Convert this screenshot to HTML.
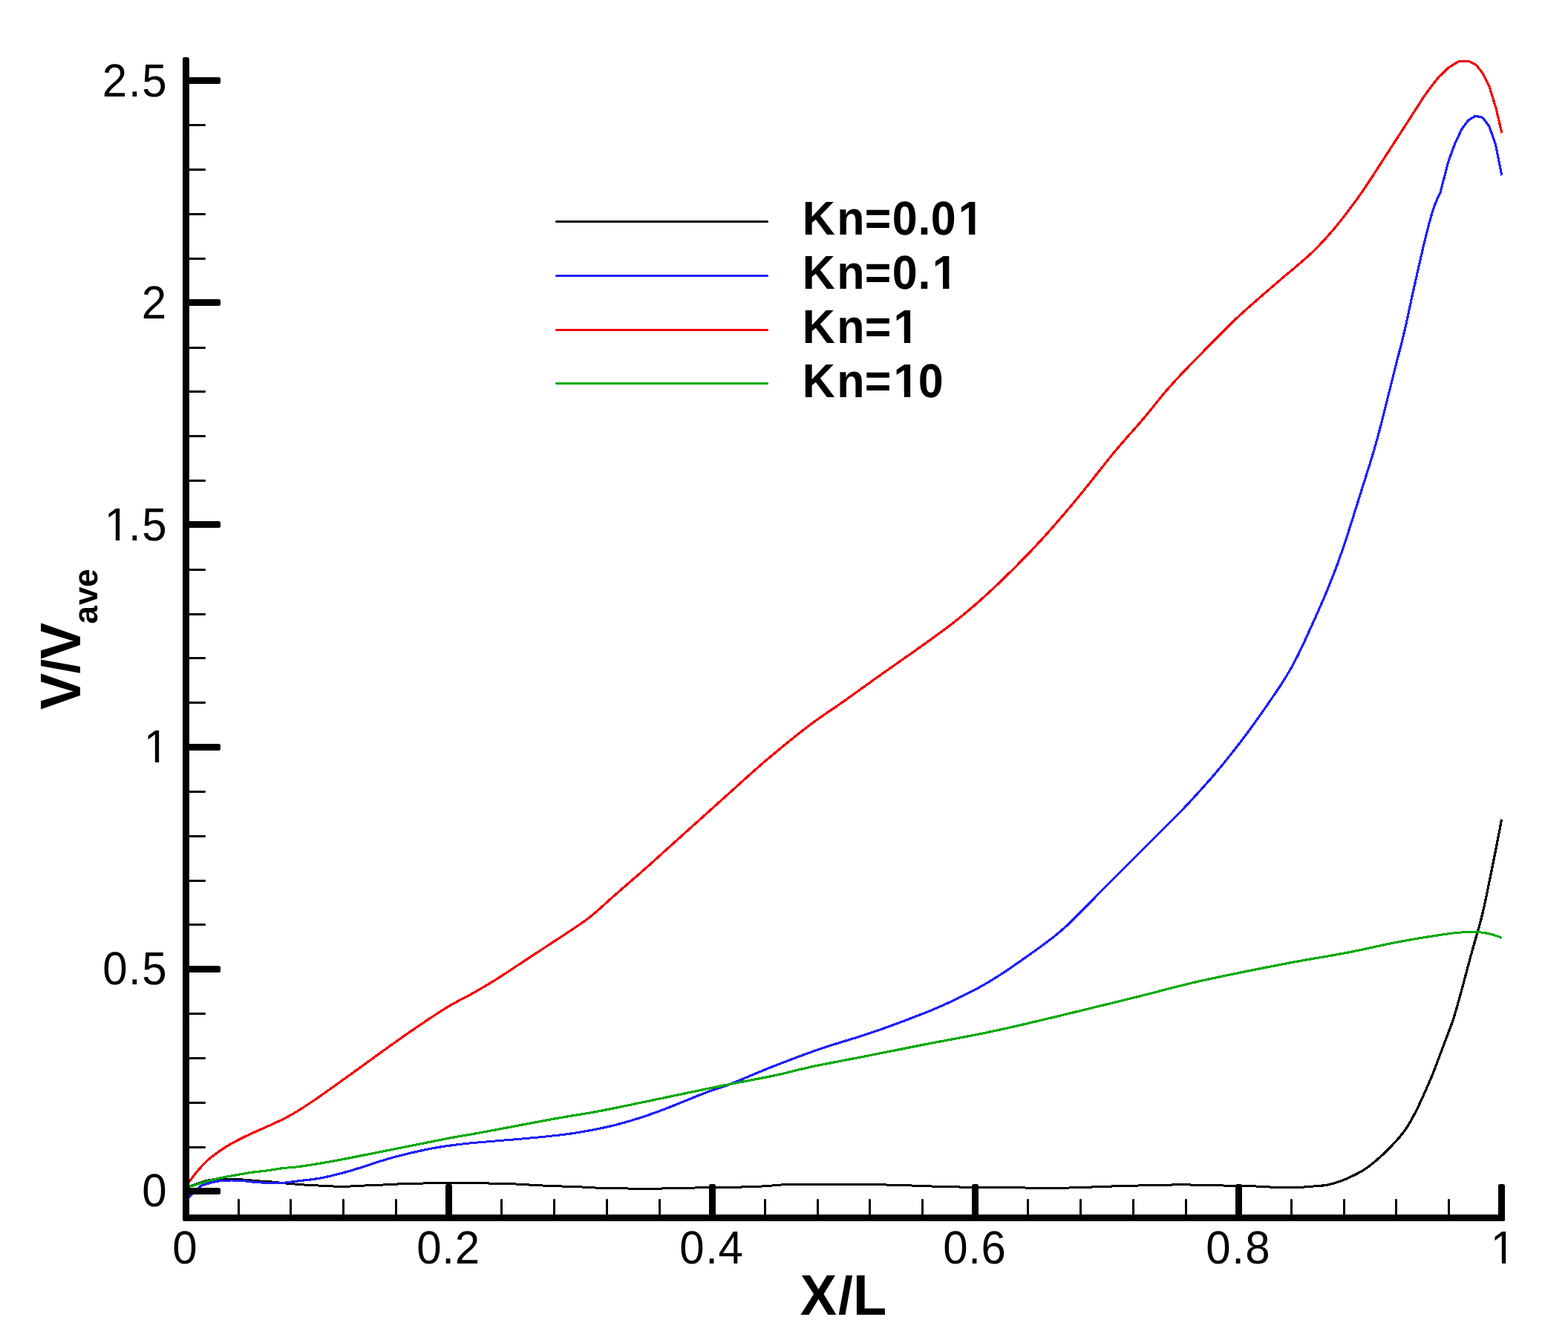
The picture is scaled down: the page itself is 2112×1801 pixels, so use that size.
<!DOCTYPE html>
<html lang="en"><head><meta charset="utf-8"><title>V/Vave vs X/L</title>
<style>html,body{margin:0;padding:0;background:#fff;}body{width:2112px;height:1801px;overflow:hidden;}svg{display:block;}text{font-family:"Liberation Sans",sans-serif;fill:#000;white-space:pre;text-rendering:geometricPrecision;}.tk{font-size:60px;font-weight:normal;}.lg{font-size:61px;font-weight:bold;}.tt{font-size:74px;font-weight:bold;}.sb{font-size:44px;font-weight:bold;}</style></head><body>
<svg width="2112" height="1801" viewBox="0 0 2112 1801">
<rect x="0" y="0" width="2112" height="1801" fill="#ffffff"/>
<defs><clipPath id="plot"><rect x="250.5" y="0" width="1774" height="1645"/></clipPath></defs>
<g clip-path="url(#plot)" fill="none" stroke-width="3" stroke-linejoin="round" stroke-linecap="butt" shape-rendering="crispEdges">
<path d="M250.5 1600.5 L251.5 1599.99 L252.5 1599.5 L253.5 1599.03 L254.5 1598.6 L255.5 1598.2 L256.5 1597.82 L257.5 1597.44 L258.5 1597.07 L259.5 1596.71 L260.5 1596.35 L261.5 1596 L262.5 1595.65 L263.5 1595.31 L264.5 1594.97 L265.5 1594.63 L266.5 1594.3 L267.5 1593.97 L268.5 1593.63 L269.5 1593.3 L270.5 1592.97 L271.5 1592.65 L272.5 1592.32 L273.5 1592.01 L274.5 1591.7 L275.5 1591.4 L276.5 1591.11 L277.5 1590.83 L278.5 1590.56 L279.5 1590.31 L280.5 1590.08 L281.5 1589.86 L282.5 1589.66 L283.5 1589.48 L284.5 1589.33 L285.5 1589.19 L286.5 1589.07 L287.5 1588.97 L288.5 1588.88 L289.5 1588.81" stroke="#000000" stroke-width="3.2"/><path d="M289.5 1588.81 L290.5 1588.74 L291.5 1588.69 L292.5 1588.65 L293.5 1588.61 L294.5 1588.59 L295.5 1588.56 L296.5 1588.53 L297.5 1588.51 L298.5 1588.49 L299.5 1588.46 L300.5 1588.44 L301.5 1588.43 L302.5 1588.41 L303.5 1588.4 L304.5 1588.39 L305.5 1588.39 L306.5 1588.38 L307.5 1588.37 L308.5 1588.36 L309.5 1588.36 L310.5 1588.35 L311.5 1588.35 L312.5 1588.35 L313.5 1588.36 L314.5 1588.37 L315.5 1588.39 L316.5 1588.41 L317.5 1588.44 L318.5 1588.48 L319.5 1588.52 L320.5 1588.57 L321.5 1588.62 L322.5 1588.68 L323.5 1588.74 L324.5 1588.81 L325.5 1588.88 L326.5 1588.96 L327.5 1589.04 L328.5 1589.12 L329.5 1589.2 L330.5 1589.28 L331.5 1589.36 L332.5 1589.45 L333.5 1589.53 L334.5 1589.61 L335.5 1589.7 L336.5 1589.78 L337.5 1589.87 L338.5 1589.96 L339.5 1590.04 L340.5 1590.13 L341.5 1590.22 L342.5 1590.32 L343.5 1590.41 L344.5 1590.5 L345.5 1590.59 L346.5 1590.69 L347.5 1590.78 L348.5 1590.87 L349.5 1590.96 L350.5 1591.04 L351.5 1591.12 L352.5 1591.19 L353.5 1591.24 L354.5 1591.3 L355.5 1591.35 L356.5 1591.39 L357.5 1591.44 L358.5 1591.49 L359.5 1591.53 L360.5 1591.58 L361.5 1591.64 L362.5 1591.7 L363.5 1591.78 L364.5 1591.86 L365.5 1591.95 L366.5 1592.05 L367.5 1592.16 L368.5 1592.26 L369.5 1592.37 L370.5 1592.47 L371.5 1592.58 L372.5 1592.68 L373.5 1592.79 L374.5 1592.89 L375.5 1593 L376.5 1593.11 L377.5 1593.21 L378.5 1593.32 L379.5 1593.42 L380.5 1593.53 L381.5 1593.63 L382.5 1593.74 L383.5 1593.84 L384.5 1593.95 L385.5 1594.05 L386.5 1594.15 L387.5 1594.25 L388.5 1594.34 L389.5 1594.42 L390.5 1594.51 L391.5 1594.59 L392.5 1594.67 L393.5 1594.75 L394.5 1594.83 L395.5 1594.9 L396.5 1594.98 L397.5 1595.06 L398.5 1595.15 L399.5 1595.23 L400.5 1595.31 L401.5 1595.39 L402.5 1595.47 L403.5 1595.55 L404.5 1595.63 L405.5 1595.71 L406.5 1595.78 L407.5 1595.85 L408.5 1595.91 L409.5 1595.97 L410.5 1596.03 L411.5 1596.08 L412.5 1596.14 L413.5 1596.19 L414.5 1596.25 L415.5 1596.3 L416.5 1596.35 L417.5 1596.4 L418.5 1596.46 L419.5 1596.51 L420.5 1596.56 L421.5 1596.61 L422.5 1596.66 L423.5 1596.71 L424.5 1596.77 L425.5 1596.82 L426.5 1596.87 L427.5 1596.92 L428.5 1596.97 L429.5 1597.02 L430.5 1597.07 L431.5 1597.12 L432.5 1597.17 L433.5 1597.22 L434.5 1597.27 L435.5 1597.33 L436.5 1597.38 L437.5 1597.43 L438.5 1597.48 L439.5 1597.53 L440.5 1597.58 L441.5 1597.64 L442.5 1597.69 L443.5 1597.74 L444.5 1597.79 L445.5 1597.84 L446.5 1597.89 L447.5 1597.94 L448.5 1597.99 L449.5 1598.04 L450.5 1598.09 L451.5 1598.14 L452.5 1598.18 L453.5 1598.23 L454.5 1598.28 L455.5 1598.32 L456.5 1598.36 L457.5 1598.38 L458.5 1598.4 L459.5 1598.4 L460.5 1598.4 L461.5 1598.39 L462.5 1598.38 L463.5 1598.36 L464.5 1598.33 L465.5 1598.3 L466.5 1598.26 L467.5 1598.22 L468.5 1598.18 L469.5 1598.13 L470.5 1598.08 L471.5 1598.03 L472.5 1597.98 L473.5 1597.93 L474.5 1597.87 L475.5 1597.82 L476.5 1597.78 L477.5 1597.72 L478.5 1597.67 L479.5 1597.62 L480.5 1597.56 L481.5 1597.5 L482.5 1597.45 L483.5 1597.39 L484.5 1597.33 L485.5 1597.28 L486.5 1597.22 L487.5 1597.17 L488.5 1597.12 L489.5 1597.07 L490.5 1597.02 L491.5 1596.98 L492.5 1596.94 L493.5 1596.89 L494.5 1596.85 L495.5 1596.81 L496.5 1596.77 L497.5 1596.73 L498.5 1596.69 L499.5 1596.65 L500.5 1596.62 L501.5 1596.58 L502.5 1596.54 L503.5 1596.5 L504.5 1596.46 L505.5 1596.43 L506.5 1596.39 L507.5 1596.35 L508.5 1596.31 L509.5 1596.27 L510.5 1596.23 L511.5 1596.19 L512.5 1596.15 L513.5 1596.11 L514.5 1596.07 L515.5 1596.02 L516.5 1595.98 L517.5 1595.93 L518.5 1595.88 L519.5 1595.83 L520.5 1595.78 L521.5 1595.73 L522.5 1595.68 L523.5 1595.62 L524.5 1595.57 L525.5 1595.51 L526.5 1595.46 L527.5 1595.4 L528.5 1595.35 L529.5 1595.3 L530.5 1595.25 L531.5 1595.19 L532.5 1595.14 L533.5 1595.1 L534.5 1595.05 L535.5 1595.01 L536.5 1594.97 L537.5 1594.93 L538.5 1594.89 L539.5 1594.85 L540.5 1594.81 L541.5 1594.78 L542.5 1594.74 L543.5 1594.71 L544.5 1594.67 L545.5 1594.64 L546.5 1594.61 L547.5 1594.58 L548.5 1594.55 L549.5 1594.52 L550.5 1594.49 L551.5 1594.46 L552.5 1594.43 L553.5 1594.4 L554.5 1594.38 L555.5 1594.35 L556.5 1594.32 L557.5 1594.3 L558.5 1594.27 L559.5 1594.25 L560.5 1594.23 L561.5 1594.2 L562.5 1594.18 L563.5 1594.16 L564.5 1594.13 L565.5 1594.11 L566.5 1594.09 L567.5 1594.07 L568.5 1594.04 L569.5 1594.02 L570.5 1594 L571.5 1593.98 L572.5 1593.96 L573.5 1593.93 L574.5 1593.91 L575.5 1593.89 L576.5 1593.87 L577.5 1593.85 L578.5 1593.83 L579.5 1593.81 L580.5 1593.79 L581.5 1593.77 L582.5 1593.75 L583.5 1593.73 L584.5 1593.71 L585.5 1593.69 L586.5 1593.67 L587.5 1593.66 L588.5 1593.64 L589.5 1593.62 L590.5 1593.61 L591.5 1593.59 L592.5 1593.57 L593.5 1593.56 L594.5 1593.55 L595.5 1593.53 L596.5 1593.52 L597.5 1593.51 L598.5 1593.49 L599.5 1593.48 L600.5 1593.47 L601.5 1593.46 L602.5 1593.45 L603.5 1593.44 L604.5 1593.44 L605.5 1593.43 L606.5 1593.42 L607.5 1593.42 L608.5 1593.41 L609.5 1593.41 L610.5 1593.4 L611.5 1593.4 L612.5 1593.4 L613.5 1593.4 L614.5 1593.4 L615.5 1593.4 L616.5 1593.4 L617.5 1593.41 L618.5 1593.41 L619.5 1593.41 L620.5 1593.42 L621.5 1593.43 L622.5 1593.43 L623.5 1593.44 L624.5 1593.45 L625.5 1593.46 L626.5 1593.47 L627.5 1593.48 L628.5 1593.49 L629.5 1593.5 L630.5 1593.51 L631.5 1593.53 L632.5 1593.54 L633.5 1593.55 L634.5 1593.57 L635.5 1593.58 L636.5 1593.6 L637.5 1593.61 L638.5 1593.63 L639.5 1593.65 L640.5 1593.66 L641.5 1593.68 L642.5 1593.7 L643.5 1593.72 L644.5 1593.74 L645.5 1593.75 L646.5 1593.77 L647.5 1593.79 L648.5 1593.81 L649.5 1593.83 L650.5 1593.85 L651.5 1593.87 L652.5 1593.89 L653.5 1593.91 L654.5 1593.93 L655.5 1593.95 L656.5 1593.97 L657.5 1593.99 L658.5 1594.01 L659.5 1594.03 L660.5 1594.05 L661.5 1594.07 L662.5 1594.09 L663.5 1594.1 L664.5 1594.12 L665.5 1594.14 L666.5 1594.16 L667.5 1594.18 L668.5 1594.19 L669.5 1594.21 L670.5 1594.23 L671.5 1594.25 L672.5 1594.27 L673.5 1594.29 L674.5 1594.31 L675.5 1594.33 L676.5 1594.35 L677.5 1594.38 L678.5 1594.4 L679.5 1594.42 L680.5 1594.45 L681.5 1594.48 L682.5 1594.51 L683.5 1594.54 L684.5 1594.57 L685.5 1594.6 L686.5 1594.63 L687.5 1594.67 L688.5 1594.71 L689.5 1594.75 L690.5 1594.79 L691.5 1594.83 L692.5 1594.88 L693.5 1594.92 L694.5 1594.97 L695.5 1595.03 L696.5 1595.08 L697.5 1595.13 L698.5 1595.19 L699.5 1595.25 L700.5 1595.3 L701.5 1595.36 L702.5 1595.42 L703.5 1595.48 L704.5 1595.54 L705.5 1595.6 L706.5 1595.66 L707.5 1595.72 L708.5 1595.78 L709.5 1595.83 L710.5 1595.89 L711.5 1595.95 L712.5 1596.01 L713.5 1596.06 L714.5 1596.12 L715.5 1596.18 L716.5 1596.23 L717.5 1596.29 L718.5 1596.35 L719.5 1596.41 L720.5 1596.47 L721.5 1596.53 L722.5 1596.58 L723.5 1596.64 L724.5 1596.69 L725.5 1596.75 L726.5 1596.8 L727.5 1596.85 L728.5 1596.9 L729.5 1596.95 L730.5 1596.99 L731.5 1597.03 L732.5 1597.08 L733.5 1597.12 L734.5 1597.16 L735.5 1597.2 L736.5 1597.24 L737.5 1597.28 L738.5 1597.32 L739.5 1597.36 L740.5 1597.4 L741.5 1597.43 L742.5 1597.47 L743.5 1597.51 L744.5 1597.55 L745.5 1597.58 L746.5 1597.62 L747.5 1597.66 L748.5 1597.69 L749.5 1597.73 L750.5 1597.77 L751.5 1597.8 L752.5 1597.84 L753.5 1597.88 L754.5 1597.91 L755.5 1597.95 L756.5 1597.99 L757.5 1598.03 L758.5 1598.06 L759.5 1598.1 L760.5 1598.14 L761.5 1598.18 L762.5 1598.21 L763.5 1598.25 L764.5 1598.29 L765.5 1598.32 L766.5 1598.36 L767.5 1598.4 L768.5 1598.43 L769.5 1598.47 L770.5 1598.51 L771.5 1598.54 L772.5 1598.58 L773.5 1598.62 L774.5 1598.65 L775.5 1598.69 L776.5 1598.73 L777.5 1598.76 L778.5 1598.8 L779.5 1598.84 L780.5 1598.88 L781.5 1598.91 L782.5 1598.95 L783.5 1598.99 L784.5 1599.03 L785.5 1599.07 L786.5 1599.12 L787.5 1599.18 L788.5 1599.23 L789.5 1599.29 L790.5 1599.36 L791.5 1599.42 L792.5 1599.49 L793.5 1599.55 L794.5 1599.61 L795.5 1599.68 L796.5 1599.74 L797.5 1599.79 L798.5 1599.85 L799.5 1599.9 L800.5 1599.94 L801.5 1599.98 L802.5 1600.02 L803.5 1600.05 L804.5 1600.08 L805.5 1600.11 L806.5 1600.14 L807.5 1600.17 L808.5 1600.2 L809.5 1600.23 L810.5 1600.25 L811.5 1600.28 L812.5 1600.31 L813.5 1600.33 L814.5 1600.36 L815.5 1600.38 L816.5 1600.41 L817.5 1600.43 L818.5 1600.46 L819.5 1600.48 L820.5 1600.5 L821.5 1600.53 L822.5 1600.55 L823.5 1600.57 L824.5 1600.59 L825.5 1600.61 L826.5 1600.63 L827.5 1600.65 L828.5 1600.67 L829.5 1600.69 L830.5 1600.71 L831.5 1600.73 L832.5 1600.75 L833.5 1600.77 L834.5 1600.79 L835.5 1600.81 L836.5 1600.83 L837.5 1600.85 L838.5 1600.87 L839.5 1600.89 L840.5 1600.9 L841.5 1600.92 L842.5 1600.94 L843.5 1600.96 L844.5 1600.98 L845.5 1601 L846.5 1601.02 L847.5 1601.04 L848.5 1601.06 L849.5 1601.08 L850.5 1601.1 L851.5 1601.12 L852.5 1601.14 L853.5 1601.16 L854.5 1601.18 L855.5 1601.2 L856.5 1601.22 L857.5 1601.24 L858.5 1601.25 L859.5 1601.27 L860.5 1601.28 L861.5 1601.3 L862.5 1601.31 L863.5 1601.32 L864.5 1601.33 L865.5 1601.34 L866.5 1601.34 L867.5 1601.35 L868.5 1601.35 L869.5 1601.35 L870.5 1601.35 L871.5 1601.34 L872.5 1601.34 L873.5 1601.33 L874.5 1601.32 L875.5 1601.31 L876.5 1601.3 L877.5 1601.28 L878.5 1601.27 L879.5 1601.25 L880.5 1601.23 L881.5 1601.22 L882.5 1601.2 L883.5 1601.18 L884.5 1601.16 L885.5 1601.14 L886.5 1601.12 L887.5 1601.1 L888.5 1601.07 L889.5 1601.05 L890.5 1601.03 L891.5 1601.01 L892.5 1600.99 L893.5 1600.97 L894.5 1600.95 L895.5 1600.92 L896.5 1600.9 L897.5 1600.88 L898.5 1600.86 L899.5 1600.84 L900.5 1600.81 L901.5 1600.79 L902.5 1600.77 L903.5 1600.74 L904.5 1600.72 L905.5 1600.7 L906.5 1600.68 L907.5 1600.65 L908.5 1600.63 L909.5 1600.61 L910.5 1600.58 L911.5 1600.56 L912.5 1600.54 L913.5 1600.51 L914.5 1600.49 L915.5 1600.47 L916.5 1600.44 L917.5 1600.42 L918.5 1600.4 L919.5 1600.37 L920.5 1600.35 L921.5 1600.33 L922.5 1600.3 L923.5 1600.28 L924.5 1600.26 L925.5 1600.24 L926.5 1600.21 L927.5 1600.19 L928.5 1600.17 L929.5 1600.15 L930.5 1600.12 L931.5 1600.1 L932.5 1600.08 L933.5 1600.06 L934.5 1600.04 L935.5 1600.02 L936.5 1600 L937.5 1599.98 L938.5 1599.96 L939.5 1599.94 L940.5 1599.92 L941.5 1599.9 L942.5 1599.88 L943.5 1599.86 L944.5 1599.84 L945.5 1599.82 L946.5 1599.81 L947.5 1599.79 L948.5 1599.77 L949.5 1599.76 L950.5 1599.74 L951.5 1599.72 L952.5 1599.71 L953.5 1599.69 L954.5 1599.68 L955.5 1599.66 L956.5 1599.65 L957.5 1599.63 L958.5 1599.62 L959.5 1599.6 L960.5 1599.59 L961.5 1599.57 L962.5 1599.56 L963.5 1599.55 L964.5 1599.53 L965.5 1599.52 L966.5 1599.5 L967.5 1599.49 L968.5 1599.48 L969.5 1599.46 L970.5 1599.45 L971.5 1599.43 L972.5 1599.42 L973.5 1599.41 L974.5 1599.39 L975.5 1599.38 L976.5 1599.36 L977.5 1599.35 L978.5 1599.34 L979.5 1599.32 L980.5 1599.31 L981.5 1599.29 L982.5 1599.28 L983.5 1599.26 L984.5 1599.25 L985.5 1599.23 L986.5 1599.22 L987.5 1599.2 L988.5 1599.19 L989.5 1599.17 L990.5 1599.15 L991.5 1599.14 L992.5 1599.12 L993.5 1599.1 L994.5 1599.08 L995.5 1599.07 L996.5 1599.05 L997.5 1599.03 L998.5 1599.01 L999.5 1598.99 L1000.5 1598.97 L1001.5 1598.95 L1002.5 1598.93 L1003.5 1598.9 L1004.5 1598.88 L1005.5 1598.85 L1006.5 1598.83 L1007.5 1598.8 L1008.5 1598.77 L1009.5 1598.74 L1010.5 1598.71 L1011.5 1598.68 L1012.5 1598.64 L1013.5 1598.61 L1014.5 1598.57 L1015.5 1598.53 L1016.5 1598.49 L1017.5 1598.44 L1018.5 1598.4 L1019.5 1598.35 L1020.5 1598.3 L1021.5 1598.25 L1022.5 1598.2 L1023.5 1598.15 L1024.5 1598.09 L1025.5 1598.03 L1026.5 1597.97 L1027.5 1597.91 L1028.5 1597.84 L1029.5 1597.77 L1030.5 1597.7 L1031.5 1597.63 L1032.5 1597.56 L1033.5 1597.49 L1034.5 1597.41 L1035.5 1597.34 L1036.5 1597.26 L1037.5 1597.19 L1038.5 1597.11 L1039.5 1597.04 L1040.5 1596.96 L1041.5 1596.88 L1042.5 1596.8 L1043.5 1596.71 L1044.5 1596.63 L1045.5 1596.54 L1046.5 1596.45 L1047.5 1596.36 L1048.5 1596.28 L1049.5 1596.2 L1050.5 1596.13 L1051.5 1596.06 L1052.5 1596 L1053.5 1595.95 L1054.5 1595.89 L1055.5 1595.84 L1056.5 1595.79 L1057.5 1595.75 L1058.5 1595.7 L1059.5 1595.66 L1060.5 1595.62 L1061.5 1595.58 L1062.5 1595.55 L1063.5 1595.51 L1064.5 1595.48 L1065.5 1595.45 L1066.5 1595.42 L1067.5 1595.4 L1068.5 1595.37 L1069.5 1595.35 L1070.5 1595.33 L1071.5 1595.31 L1072.5 1595.29 L1073.5 1595.27 L1074.5 1595.26 L1075.5 1595.24 L1076.5 1595.23 L1077.5 1595.22 L1078.5 1595.21 L1079.5 1595.2 L1080.5 1595.19 L1081.5 1595.18 L1082.5 1595.18 L1083.5 1595.17 L1084.5 1595.17 L1085.5 1595.17 L1086.5 1595.16 L1087.5 1595.16 L1088.5 1595.16 L1089.5 1595.17 L1090.5 1595.17 L1091.5 1595.17 L1092.5 1595.17 L1093.5 1595.18 L1094.5 1595.18 L1095.5 1595.19 L1096.5 1595.19 L1097.5 1595.2 L1098.5 1595.21 L1099.5 1595.21 L1100.5 1595.22 L1101.5 1595.23 L1102.5 1595.24 L1103.5 1595.25 L1104.5 1595.25 L1105.5 1595.26 L1106.5 1595.27 L1107.5 1595.28 L1108.5 1595.29 L1109.5 1595.3 L1110.5 1595.31 L1111.5 1595.32 L1112.5 1595.33 L1113.5 1595.33 L1114.5 1595.34 L1115.5 1595.35 L1116.5 1595.36 L1117.5 1595.37 L1118.5 1595.37 L1119.5 1595.38 L1120.5 1595.39 L1121.5 1595.39 L1122.5 1595.4 L1123.5 1595.4 L1124.5 1595.41 L1125.5 1595.41 L1126.5 1595.42 L1127.5 1595.42 L1128.5 1595.42 L1129.5 1595.43 L1130.5 1595.43 L1131.5 1595.43 L1132.5 1595.44 L1133.5 1595.44 L1134.5 1595.45 L1135.5 1595.45 L1136.5 1595.45 L1137.5 1595.46 L1138.5 1595.46 L1139.5 1595.46 L1140.5 1595.47 L1141.5 1595.47 L1142.5 1595.47 L1143.5 1595.48 L1144.5 1595.48 L1145.5 1595.48 L1146.5 1595.49 L1147.5 1595.49 L1148.5 1595.5 L1149.5 1595.5 L1150.5 1595.5 L1151.5 1595.51 L1152.5 1595.51 L1153.5 1595.52 L1154.5 1595.52 L1155.5 1595.53 L1156.5 1595.53 L1157.5 1595.54 L1158.5 1595.55 L1159.5 1595.55 L1160.5 1595.56 L1161.5 1595.56 L1162.5 1595.57 L1163.5 1595.58 L1164.5 1595.59 L1165.5 1595.59 L1166.5 1595.6 L1167.5 1595.61 L1168.5 1595.62 L1169.5 1595.63 L1170.5 1595.64 L1171.5 1595.65 L1172.5 1595.66 L1173.5 1595.67 L1174.5 1595.68 L1175.5 1595.7 L1176.5 1595.71 L1177.5 1595.72 L1178.5 1595.73 L1179.5 1595.75 L1180.5 1595.76 L1181.5 1595.78 L1182.5 1595.79 L1183.5 1595.81 L1184.5 1595.82 L1185.5 1595.84 L1186.5 1595.86 L1187.5 1595.88 L1188.5 1595.9 L1189.5 1595.92 L1190.5 1595.94 L1191.5 1595.96 L1192.5 1595.98 L1193.5 1596 L1194.5 1596.02 L1195.5 1596.05 L1196.5 1596.07 L1197.5 1596.09 L1198.5 1596.12 L1199.5 1596.14 L1200.5 1596.17 L1201.5 1596.19 L1202.5 1596.22 L1203.5 1596.25 L1204.5 1596.27 L1205.5 1596.3 L1206.5 1596.33 L1207.5 1596.36 L1208.5 1596.38 L1209.5 1596.41 L1210.5 1596.44 L1211.5 1596.47 L1212.5 1596.5 L1213.5 1596.53 L1214.5 1596.56 L1215.5 1596.59 L1216.5 1596.62 L1217.5 1596.65 L1218.5 1596.69 L1219.5 1596.72 L1220.5 1596.75 L1221.5 1596.78 L1222.5 1596.81 L1223.5 1596.85 L1224.5 1596.88 L1225.5 1596.91 L1226.5 1596.95 L1227.5 1596.98 L1228.5 1597.02 L1229.5 1597.05 L1230.5 1597.09 L1231.5 1597.12 L1232.5 1597.16 L1233.5 1597.2 L1234.5 1597.23 L1235.5 1597.27 L1236.5 1597.31 L1237.5 1597.35 L1238.5 1597.39 L1239.5 1597.43 L1240.5 1597.46 L1241.5 1597.5 L1242.5 1597.54 L1243.5 1597.58 L1244.5 1597.62 L1245.5 1597.66 L1246.5 1597.69 L1247.5 1597.73 L1248.5 1597.77 L1249.5 1597.81 L1250.5 1597.84 L1251.5 1597.88 L1252.5 1597.91 L1253.5 1597.95 L1254.5 1597.98 L1255.5 1598.02 L1256.5 1598.05 L1257.5 1598.08 L1258.5 1598.12 L1259.5 1598.15 L1260.5 1598.18 L1261.5 1598.21 L1262.5 1598.25 L1263.5 1598.28 L1264.5 1598.31 L1265.5 1598.34 L1266.5 1598.37 L1267.5 1598.4 L1268.5 1598.43 L1269.5 1598.46 L1270.5 1598.49 L1271.5 1598.52 L1272.5 1598.55 L1273.5 1598.58 L1274.5 1598.6 L1275.5 1598.63 L1276.5 1598.66 L1277.5 1598.68 L1278.5 1598.71 L1279.5 1598.74 L1280.5 1598.76 L1281.5 1598.78 L1282.5 1598.81 L1283.5 1598.83 L1284.5 1598.85 L1285.5 1598.87 L1286.5 1598.9 L1287.5 1598.92 L1288.5 1598.94 L1289.5 1598.96 L1290.5 1598.97 L1291.5 1598.99 L1292.5 1599.01 L1293.5 1599.03 L1294.5 1599.04 L1295.5 1599.06 L1296.5 1599.07 L1297.5 1599.09 L1298.5 1599.1 L1299.5 1599.12 L1300.5 1599.13 L1301.5 1599.15 L1302.5 1599.16 L1303.5 1599.18 L1304.5 1599.19 L1305.5 1599.21 L1306.5 1599.22 L1307.5 1599.23 L1308.5 1599.24 L1309.5 1599.26 L1310.5 1599.27 L1311.5 1599.28 L1312.5 1599.29 L1313.5 1599.31 L1314.5 1599.32 L1315.5 1599.33 L1316.5 1599.34 L1317.5 1599.35 L1318.5 1599.36 L1319.5 1599.37 L1320.5 1599.39 L1321.5 1599.4 L1322.5 1599.41 L1323.5 1599.42 L1324.5 1599.43 L1325.5 1599.44 L1326.5 1599.45 L1327.5 1599.46 L1328.5 1599.47 L1329.5 1599.48 L1330.5 1599.49 L1331.5 1599.5 L1332.5 1599.51 L1333.5 1599.52 L1334.5 1599.53 L1335.5 1599.54 L1336.5 1599.54 L1337.5 1599.55 L1338.5 1599.56 L1339.5 1599.57 L1340.5 1599.58 L1341.5 1599.59 L1342.5 1599.6 L1343.5 1599.61 L1344.5 1599.62 L1345.5 1599.63 L1346.5 1599.64 L1347.5 1599.65 L1348.5 1599.66 L1349.5 1599.67 L1350.5 1599.67 L1351.5 1599.68 L1352.5 1599.69 L1353.5 1599.7 L1354.5 1599.71 L1355.5 1599.72 L1356.5 1599.73 L1357.5 1599.74 L1358.5 1599.75 L1359.5 1599.76 L1360.5 1599.77 L1361.5 1599.78 L1362.5 1599.79 L1363.5 1599.8 L1364.5 1599.81 L1365.5 1599.82 L1366.5 1599.83 L1367.5 1599.84 L1368.5 1599.85 L1369.5 1599.87 L1370.5 1599.88 L1371.5 1599.89 L1372.5 1599.9 L1373.5 1599.91 L1374.5 1599.92 L1375.5 1599.93 L1376.5 1599.95 L1377.5 1599.96 L1378.5 1599.97 L1379.5 1599.98 L1380.5 1600 L1381.5 1600.01 L1382.5 1600.03 L1383.5 1600.04 L1384.5 1600.06 L1385.5 1600.07 L1386.5 1600.09 L1387.5 1600.11 L1388.5 1600.13 L1389.5 1600.15 L1390.5 1600.17 L1391.5 1600.19 L1392.5 1600.21 L1393.5 1600.23 L1394.5 1600.25 L1395.5 1600.27 L1396.5 1600.29 L1397.5 1600.31 L1398.5 1600.33 L1399.5 1600.35 L1400.5 1600.37 L1401.5 1600.39 L1402.5 1600.4 L1403.5 1600.42 L1404.5 1600.44 L1405.5 1600.45 L1406.5 1600.46 L1407.5 1600.48 L1408.5 1600.49 L1409.5 1600.5 L1410.5 1600.5 L1411.5 1600.51 L1412.5 1600.51 L1413.5 1600.51 L1414.5 1600.51 L1415.5 1600.51 L1416.5 1600.51 L1417.5 1600.5 L1418.5 1600.49 L1419.5 1600.48 L1420.5 1600.47 L1421.5 1600.45 L1422.5 1600.44 L1423.5 1600.42 L1424.5 1600.4 L1425.5 1600.38 L1426.5 1600.36 L1427.5 1600.34 L1428.5 1600.32 L1429.5 1600.3 L1430.5 1600.27 L1431.5 1600.24 L1432.5 1600.22 L1433.5 1600.19 L1434.5 1600.16 L1435.5 1600.13 L1436.5 1600.1 L1437.5 1600.08 L1438.5 1600.05 L1439.5 1600.02 L1440.5 1599.98 L1441.5 1599.95 L1442.5 1599.92 L1443.5 1599.89 L1444.5 1599.86 L1445.5 1599.83 L1446.5 1599.8 L1447.5 1599.77 L1448.5 1599.74 L1449.5 1599.71 L1450.5 1599.68 L1451.5 1599.64 L1452.5 1599.61 L1453.5 1599.58 L1454.5 1599.55 L1455.5 1599.52 L1456.5 1599.49 L1457.5 1599.45 L1458.5 1599.42 L1459.5 1599.39 L1460.5 1599.35 L1461.5 1599.32 L1462.5 1599.29 L1463.5 1599.25 L1464.5 1599.22 L1465.5 1599.19 L1466.5 1599.15 L1467.5 1599.12 L1468.5 1599.08 L1469.5 1599.05 L1470.5 1599.01 L1471.5 1598.98 L1472.5 1598.94 L1473.5 1598.91 L1474.5 1598.87 L1475.5 1598.83 L1476.5 1598.79 L1477.5 1598.76 L1478.5 1598.72 L1479.5 1598.68 L1480.5 1598.64 L1481.5 1598.6 L1482.5 1598.57 L1483.5 1598.53 L1484.5 1598.49 L1485.5 1598.45 L1486.5 1598.41 L1487.5 1598.37 L1488.5 1598.34 L1489.5 1598.3 L1490.5 1598.26 L1491.5 1598.22 L1492.5 1598.19 L1493.5 1598.15 L1494.5 1598.12 L1495.5 1598.08 L1496.5 1598.05 L1497.5 1598.01 L1498.5 1597.98 L1499.5 1597.95 L1500.5 1597.92 L1501.5 1597.88 L1502.5 1597.85 L1503.5 1597.82 L1504.5 1597.79 L1505.5 1597.76 L1506.5 1597.73 L1507.5 1597.7 L1508.5 1597.67 L1509.5 1597.64 L1510.5 1597.61 L1511.5 1597.59 L1512.5 1597.56 L1513.5 1597.53 L1514.5 1597.5 L1515.5 1597.48 L1516.5 1597.45 L1517.5 1597.42 L1518.5 1597.39 L1519.5 1597.37 L1520.5 1597.34 L1521.5 1597.32 L1522.5 1597.29 L1523.5 1597.26 L1524.5 1597.24 L1525.5 1597.21 L1526.5 1597.18 L1527.5 1597.16 L1528.5 1597.13 L1529.5 1597.11 L1530.5 1597.08 L1531.5 1597.05 L1532.5 1597.03 L1533.5 1597 L1534.5 1596.98 L1535.5 1596.95 L1536.5 1596.93 L1537.5 1596.9 L1538.5 1596.88 L1539.5 1596.85 L1540.5 1596.83 L1541.5 1596.81 L1542.5 1596.78 L1543.5 1596.76 L1544.5 1596.74 L1545.5 1596.71 L1546.5 1596.69 L1547.5 1596.67 L1548.5 1596.65 L1549.5 1596.63 L1550.5 1596.61 L1551.5 1596.58 L1552.5 1596.56 L1553.5 1596.54 L1554.5 1596.52 L1555.5 1596.5 L1556.5 1596.48 L1557.5 1596.46 L1558.5 1596.44 L1559.5 1596.42 L1560.5 1596.4 L1561.5 1596.38 L1562.5 1596.36 L1563.5 1596.34 L1564.5 1596.32 L1565.5 1596.29 L1566.5 1596.27 L1567.5 1596.25 L1568.5 1596.23 L1569.5 1596.21 L1570.5 1596.19 L1571.5 1596.17 L1572.5 1596.15 L1573.5 1596.12 L1574.5 1596.1 L1575.5 1596.08 L1576.5 1596.06 L1577.5 1596.03 L1578.5 1596.01 L1579.5 1595.99 L1580.5 1595.95 L1581.5 1595.91 L1582.5 1595.86 L1583.5 1595.8 L1584.5 1595.74 L1585.5 1595.69 L1586.5 1595.63 L1587.5 1595.58 L1588.5 1595.55 L1589.5 1595.52 L1590.5 1595.5 L1591.5 1595.5 L1592.5 1595.52 L1593.5 1595.55 L1594.5 1595.59 L1595.5 1595.63 L1596.5 1595.69 L1597.5 1595.74 L1598.5 1595.8 L1599.5 1595.85 L1600.5 1595.9 L1601.5 1595.95 L1602.5 1595.98 L1603.5 1596.01 L1604.5 1596.03 L1605.5 1596.05 L1606.5 1596.08 L1607.5 1596.1 L1608.5 1596.12 L1609.5 1596.14 L1610.5 1596.17 L1611.5 1596.19 L1612.5 1596.21 L1613.5 1596.23 L1614.5 1596.26 L1615.5 1596.28 L1616.5 1596.3 L1617.5 1596.32 L1618.5 1596.35 L1619.5 1596.37 L1620.5 1596.39 L1621.5 1596.41 L1622.5 1596.44 L1623.5 1596.46 L1624.5 1596.48 L1625.5 1596.5 L1626.5 1596.53 L1627.5 1596.55 L1628.5 1596.57 L1629.5 1596.59 L1630.5 1596.62 L1631.5 1596.64 L1632.5 1596.66 L1633.5 1596.68 L1634.5 1596.71 L1635.5 1596.73 L1636.5 1596.75 L1637.5 1596.77 L1638.5 1596.8 L1639.5 1596.82 L1640.5 1596.84 L1641.5 1596.86 L1642.5 1596.89 L1643.5 1596.91 L1644.5 1596.93 L1645.5 1596.95 L1646.5 1596.98 L1647.5 1597 L1648.5 1597.02 L1649.5 1597.05 L1650.5 1597.07 L1651.5 1597.09 L1652.5 1597.11 L1653.5 1597.14 L1654.5 1597.16 L1655.5 1597.18 L1656.5 1597.2 L1657.5 1597.23 L1658.5 1597.25 L1659.5 1597.27 L1660.5 1597.29 L1661.5 1597.32 L1662.5 1597.34 L1663.5 1597.36 L1664.5 1597.38 L1665.5 1597.41 L1666.5 1597.43 L1667.5 1597.45 L1668.5 1597.47 L1669.5 1597.5 L1670.5 1597.52 L1671.5 1597.54 L1672.5 1597.56 L1673.5 1597.59 L1674.5 1597.61 L1675.5 1597.63 L1676.5 1597.65 L1677.5 1597.68 L1678.5 1597.7 L1679.5 1597.72 L1680.5 1597.74 L1681.5 1597.77 L1682.5 1597.79 L1683.5 1597.81 L1684.5 1597.83 L1685.5 1597.86 L1686.5 1597.88 L1687.5 1597.9 L1688.5 1597.92 L1689.5 1597.95 L1690.5 1597.97 L1691.5 1597.99 L1692.5 1598.02 L1693.5 1598.05 L1694.5 1598.09 L1695.5 1598.13 L1696.5 1598.18 L1697.5 1598.24 L1698.5 1598.3 L1699.5 1598.36 L1700.5 1598.43 L1701.5 1598.49 L1702.5 1598.56 L1703.5 1598.63 L1704.5 1598.69 L1705.5 1598.76 L1706.5 1598.82 L1707.5 1598.87 L1708.5 1598.92 L1709.5 1598.97 L1710.5 1599.01 L1711.5 1599.04 L1712.5 1599.08 L1713.5 1599.11 L1714.5 1599.14 L1715.5 1599.16 L1716.5 1599.19 L1717.5 1599.21 L1718.5 1599.23 L1719.5 1599.25 L1720.5 1599.27 L1721.5 1599.29 L1722.5 1599.3 L1723.5 1599.32 L1724.5 1599.33 L1725.5 1599.34 L1726.5 1599.35 L1727.5 1599.36 L1728.5 1599.37 L1729.5 1599.38 L1730.5 1599.39 L1731.5 1599.39 L1732.5 1599.4 L1733.5 1599.4 L1734.5 1599.41 L1735.5 1599.42 L1736.5 1599.42 L1737.5 1599.43 L1738.5 1599.44 L1739.5 1599.44 L1740.5 1599.45 L1741.5 1599.45 L1742.5 1599.45 L1743.5 1599.45 L1744.5 1599.45 L1745.5 1599.44 L1746.5 1599.43 L1747.5 1599.41 L1748.5 1599.39 L1749.5 1599.37 L1750.5 1599.33 L1751.5 1599.3 L1752.5 1599.25 L1753.5 1599.2 L1754.5 1599.15 L1755.5 1599.08 L1756.5 1599.01 L1757.5 1598.93 L1758.5 1598.85 L1759.5 1598.77 L1760.5 1598.69 L1761.5 1598.61 L1762.5 1598.53 L1763.5 1598.45 L1764.5 1598.37 L1765.5 1598.29 L1766.5 1598.22 L1767.5 1598.14 L1768.5 1598.06 L1769.5 1597.98 L1770.5 1597.9 L1771.5 1597.82 L1772.5 1597.74 L1773.5 1597.66 L1774.5 1597.58 L1775.5 1597.5 L1776.5 1597.42 L1777.5 1597.34 L1778.5 1597.26" stroke="#000000" stroke-width="3"/><path d="M1778.5 1597.26 L1779.5 1597.18 L1780.5 1597.1 L1781.5 1597.02 L1782.5 1596.93 L1783.5 1596.81 L1784.5 1596.68 L1785.5 1596.52 L1786.5 1596.35 L1787.5 1596.15 L1788.5 1595.94 L1789.5 1595.72 L1790.5 1595.49 L1791.5 1595.25 L1792.5 1595 L1793.5 1594.74 L1794.5 1594.48 L1795.5 1594.22 L1796.5 1593.95 L1797.5 1593.68 L1798.5 1593.39 L1799.5 1593.09 L1800.5 1592.78 L1801.5 1592.47 L1802.5 1592.14 L1803.5 1591.8 L1804.5 1591.45 L1805.5 1591.09 L1806.5 1590.71 L1807.5 1590.33 L1808.5 1589.93 L1809.5 1589.53 L1810.5 1589.12 L1811.5 1588.7 L1812.5 1588.27 L1813.5 1587.84 L1814.5 1587.4 L1815.5 1586.95 L1816.5 1586.5 L1817.5 1586.05 L1818.5 1585.59 L1819.5 1585.13 L1820.5 1584.67 L1821.5 1584.2 L1822.5 1583.72 L1823.5 1583.24 L1824.5 1582.76 L1825.5 1582.26 L1826.5 1581.76 L1827.5 1581.24 L1828.5 1580.72 L1829.5 1580.19 L1830.5 1579.66 L1831.5 1579.11 L1832.5 1578.55 L1833.5 1577.98 L1834.5 1577.4 L1835.5 1576.8 L1836.5 1576.18 L1837.5 1575.55 L1838.5 1574.89 L1839.5 1574.21 L1840.5 1573.52 L1841.5 1572.81 L1842.5 1572.08 L1843.5 1571.34 L1844.5 1570.58 L1845.5 1569.81 L1846.5 1569.02 L1847.5 1568.23 L1848.5 1567.42 L1849.5 1566.61 L1850.5 1565.79 L1851.5 1564.96 L1852.5 1564.12 L1853.5 1563.27 L1854.5 1562.42 L1855.5 1561.55 L1856.5 1560.68 L1857.5 1559.8 L1858.5 1558.91 L1859.5 1558.01 L1860.5 1557.1 L1861.5 1556.18 L1862.5 1555.26 L1863.5 1554.32 L1864.5 1553.38 L1865.5 1552.42 L1866.5 1551.46 L1867.5 1550.48 L1868.5 1549.49 L1869.5 1548.49 L1870.5 1547.48 L1871.5 1546.46 L1872.5 1545.43 L1873.5 1544.39 L1874.5 1543.34 L1875.5 1542.29 L1876.5 1541.24 L1877.5 1540.17 L1878.5 1539.11 L1879.5 1538.04 L1880.5 1536.96 L1881.5 1535.86 L1882.5 1534.74 L1883.5 1533.59 L1884.5 1532.42 L1885.5 1531.23 L1886.5 1530.02 L1887.5 1528.78 L1888.5 1527.52 L1889.5 1526.23 L1890.5 1524.93 L1891.5 1523.59 L1892.5 1522.21 L1893.5 1520.77 L1894.5 1519.28 L1895.5 1517.73 L1896.5 1516.15 L1897.5 1514.51 L1898.5 1512.84 L1899.5 1511.12 L1900.5 1509.37 L1901.5 1507.58 L1902.5 1505.77 L1903.5 1503.93 L1904.5 1502.06 L1905.5 1500.17 L1906.5 1498.24 L1907.5 1496.28 L1908.5 1494.29 L1909.5 1492.26 L1910.5 1490.19 L1911.5 1488.07 L1912.5 1485.94 L1913.5 1483.79 L1914.5 1481.62 L1915.5 1479.43 L1916.5 1477.23 L1917.5 1475.01 L1918.5 1472.78 L1919.5 1470.54 L1920.5 1468.28 L1921.5 1466 L1922.5 1463.72 L1923.5 1461.46 L1924.5 1459.19 L1925.5 1456.9 L1926.5 1454.6 L1927.5 1452.26 L1928.5 1449.88 L1929.5 1447.44 L1930.5 1444.94 L1931.5 1442.36 L1932.5 1439.73 L1933.5 1437.09 L1934.5 1434.44 L1935.5 1431.78 L1936.5 1429.11 L1937.5 1426.44 L1938.5 1423.78 L1939.5 1421.11 L1940.5 1418.45 L1941.5 1415.79 L1942.5 1413.15 L1943.5 1410.51 L1944.5 1407.87 L1945.5 1405.23 L1946.5 1402.6 L1947.5 1399.97 L1948.5 1397.34 L1949.5 1394.7 L1950.5 1392.06 L1951.5 1389.42 L1952.5 1386.77 L1953.5 1384.09 L1954.5 1381.36 L1955.5 1378.57 L1956.5 1375.71 L1957.5 1372.75 L1958.5 1369.69 L1959.5 1366.52 L1960.5 1363.21 L1961.5 1359.77 L1962.5 1356.27 L1963.5 1352.74 L1964.5 1349.17 L1965.5 1345.57 L1966.5 1341.94 L1967.5 1338.28 L1968.5 1334.6 L1969.5 1330.9 L1970.5 1327.18 L1971.5 1323.45 L1972.5 1319.71 L1973.5 1315.97 L1974.5 1312.22 L1975.5 1308.47 L1976.5 1304.72 L1977.5 1300.98 L1978.5 1297.25 L1979.5 1293.54 L1980.5 1289.84 L1981.5 1286.15 L1982.5 1282.5 L1983.5 1278.86 L1984.5 1275.27 L1985.5 1271.75 L1986.5 1268.26 L1987.5 1264.81 L1988.5 1261.36 L1989.5 1257.91 L1990.5 1254.44 L1991.5 1250.93 L1992.5 1247.36 L1993.5 1243.73 L1994.5 1240 L1995.5 1236.13 L1996.5 1232.09 L1997.5 1227.89 L1998.5 1223.55 L1999.5 1219.07 L2000.5 1214.48 L2001.5 1209.8 L2002.5 1205.03 L2003.5 1200.19 L2004.5 1195.29 L2005.5 1190.36 L2006.5 1185.41 L2007.5 1180.45 L2008.5 1175.49 L2009.5 1170.55 L2010.5 1165.59 L2011.5 1160.62 L2012.5 1155.63 L2013.5 1150.62 L2014.5 1145.59 L2015.5 1140.54 L2016.5 1135.46 L2017.5 1130.35 L2018.5 1125.2 L2019.5 1120.02 L2020.5 1114.8 L2021.5 1109.54 L2022.5 1104.23 L2022.6 1103.7" stroke="#000000" stroke-width="3.2"/>
<path d="M250.5 1616 L251.5 1615.13 L252.5 1614.25 L253.5 1613.35 L254.5 1612.45 L255.5 1611.54 L256.5 1610.62 L257.5 1609.69 L258.5 1608.75 L259.5 1607.81 L260.5 1606.87 L261.5 1605.92 L262.5 1604.94 L263.5 1603.92 L264.5 1602.9 L265.5 1601.88 L266.5 1600.89 L267.5 1599.96 L268.5 1599.1 L269.5 1598.34 L270.5 1597.69 L271.5 1597.13 L272.5 1596.65 L273.5 1596.23 L274.5 1595.87 L275.5 1595.54 L276.5 1595.25 L277.5 1594.97 L278.5 1594.7 L279.5 1594.41 L280.5 1594.13 L281.5 1593.85 L282.5 1593.57 L283.5 1593.3 L284.5 1593.03 L285.5 1592.78 L286.5 1592.53 L287.5 1592.3 L288.5 1592.08 L289.5 1591.88 L290.5 1591.7 L291.5 1591.53 L292.5 1591.35 L293.5 1591.19 L294.5 1591.02 L295.5 1590.87 L296.5 1590.72 L297.5 1590.59" stroke="#2020ff" stroke-width="3.2"/><path d="M297.5 1590.59 L298.5 1590.47 L299.5 1590.37 L300.5 1590.28 L301.5 1590.22 L302.5 1590.17 L303.5 1590.14 L304.5 1590.1 L305.5 1590.08 L306.5 1590.06 L307.5 1590.04 L308.5 1590.02 L309.5 1590.01 L310.5 1590.01 L311.5 1590 L312.5 1590 L313.5 1590 L314.5 1590 L315.5 1590 L316.5 1590 L317.5 1590 L318.5 1590.01 L319.5 1590.02 L320.5 1590.04 L321.5 1590.07 L322.5 1590.1 L323.5 1590.14 L324.5 1590.2 L325.5 1590.28 L326.5 1590.38 L327.5 1590.5 L328.5 1590.64 L329.5 1590.8 L330.5 1590.95 L331.5 1591.11 L332.5 1591.27 L333.5 1591.42 L334.5 1591.55 L335.5 1591.67 L336.5 1591.77 L337.5 1591.86 L338.5 1591.96 L339.5 1592.05 L340.5 1592.14 L341.5 1592.23 L342.5 1592.31 L343.5 1592.39 L344.5 1592.48 L345.5 1592.56 L346.5 1592.63 L347.5 1592.71 L348.5 1592.78 L349.5 1592.85 L350.5 1592.92 L351.5 1592.99 L352.5 1593.06 L353.5 1593.12 L354.5 1593.18 L355.5 1593.24 L356.5 1593.29 L357.5 1593.35 L358.5 1593.4 L359.5 1593.45 L360.5 1593.5 L361.5 1593.56 L362.5 1593.61 L363.5 1593.66 L364.5 1593.7 L365.5 1593.75 L366.5 1593.78 L367.5 1593.82 L368.5 1593.85 L369.5 1593.87 L370.5 1593.89 L371.5 1593.89 L372.5 1593.89 L373.5 1593.88 L374.5 1593.86 L375.5 1593.83 L376.5 1593.78 L377.5 1593.72 L378.5 1593.65 L379.5 1593.57 L380.5 1593.47 L381.5 1593.35 L382.5 1593.23 L383.5 1593.12 L384.5 1592.99 L385.5 1592.87 L386.5 1592.75 L387.5 1592.63 L388.5 1592.51 L389.5 1592.39 L390.5 1592.26 L391.5 1592.14 L392.5 1592.02 L393.5 1591.89 L394.5 1591.77 L395.5 1591.65" stroke="#2020ff" stroke-width="3"/><path d="M395.5 1591.65 L396.5 1591.52 L397.5 1591.4 L398.5 1591.28 L399.5 1591.16 L400.5 1591.04 L401.5 1590.92 L402.5 1590.8 L403.5 1590.68 L404.5 1590.56 L405.5 1590.44 L406.5 1590.33 L407.5 1590.21 L408.5 1590.09 L409.5 1589.97 L410.5 1589.85 L411.5 1589.74 L412.5 1589.62 L413.5 1589.5 L414.5 1589.38 L415.5 1589.26 L416.5 1589.14 L417.5 1589.02 L418.5 1588.9 L419.5 1588.78 L420.5 1588.66 L421.5 1588.54 L422.5 1588.41 L423.5 1588.27 L424.5 1588.13 L425.5 1587.99 L426.5 1587.83 L427.5 1587.67 L428.5 1587.51 L429.5 1587.34 L430.5 1587.16 L431.5 1586.98 L432.5 1586.79 L433.5 1586.6 L434.5 1586.4 L435.5 1586.2 L436.5 1586 L437.5 1585.79 L438.5 1585.57 L439.5 1585.36 L440.5 1585.14 L441.5 1584.91 L442.5 1584.68 L443.5 1584.45 L444.5 1584.22 L445.5 1583.98 L446.5 1583.74 L447.5 1583.5 L448.5 1583.26 L449.5 1583.01 L450.5 1582.76 L451.5 1582.51 L452.5 1582.26 L453.5 1582 L454.5 1581.75 L455.5 1581.49 L456.5 1581.23 L457.5 1580.98 L458.5 1580.72 L459.5 1580.46 L460.5 1580.2 L461.5 1579.94 L462.5 1579.68 L463.5 1579.42 L464.5 1579.15 L465.5 1578.88 L466.5 1578.61 L467.5 1578.34 L468.5 1578.06 L469.5 1577.78 L470.5 1577.49 L471.5 1577.2 L472.5 1576.91 L473.5 1576.62 L474.5 1576.32 L475.5 1576.02 L476.5 1575.72 L477.5 1575.42 L478.5 1575.11 L479.5 1574.8 L480.5 1574.49 L481.5 1574.18 L482.5 1573.87 L483.5 1573.55 L484.5 1573.23 L485.5 1572.91 L486.5 1572.59 L487.5 1572.27 L488.5 1571.95 L489.5 1571.62 L490.5 1571.3 L491.5 1570.97 L492.5 1570.65 L493.5 1570.32 L494.5 1569.99 L495.5 1569.67 L496.5 1569.34 L497.5 1569.01 L498.5 1568.68 L499.5 1568.35 L500.5 1568.02 L501.5 1567.7 L502.5 1567.37 L503.5 1567.04 L504.5 1566.72 L505.5 1566.39 L506.5 1566.07 L507.5 1565.74 L508.5 1565.42 L509.5 1565.1 L510.5 1564.78 L511.5 1564.46 L512.5 1564.14 L513.5 1563.83 L514.5 1563.51 L515.5 1563.2 L516.5 1562.89 L517.5 1562.58 L518.5 1562.28 L519.5 1561.97 L520.5 1561.67 L521.5 1561.37 L522.5 1561.08 L523.5 1560.78 L524.5 1560.49 L525.5 1560.21 L526.5 1559.92 L527.5 1559.64 L528.5 1559.36 L529.5 1559.09 L530.5 1558.82 L531.5 1558.55 L532.5 1558.29 L533.5 1558.03 L534.5 1557.77 L535.5 1557.51 L536.5 1557.26 L537.5 1557 L538.5 1556.75 L539.5 1556.5 L540.5 1556.24 L541.5 1555.99 L542.5 1555.74 L543.5 1555.49 L544.5 1555.24 L545.5 1555 L546.5 1554.75 L547.5 1554.51 L548.5 1554.26 L549.5 1554.02 L550.5 1553.78 L551.5 1553.54 L552.5 1553.3 L553.5 1553.06 L554.5 1552.83 L555.5 1552.59 L556.5 1552.36 L557.5 1552.13 L558.5 1551.9 L559.5 1551.67 L560.5 1551.44 L561.5 1551.21 L562.5 1550.99 L563.5 1550.77 L564.5 1550.54 L565.5 1550.32 L566.5 1550.11 L567.5 1549.89 L568.5 1549.67 L569.5 1549.46 L570.5 1549.25 L571.5 1549.04 L572.5 1548.83 L573.5 1548.63 L574.5 1548.42 L575.5 1548.22 L576.5 1548.02 L577.5 1547.82 L578.5 1547.62 L579.5 1547.43 L580.5 1547.24 L581.5 1547.05 L582.5 1546.86 L583.5 1546.67 L584.5 1546.49 L585.5 1546.31 L586.5 1546.13 L587.5 1545.95 L588.5 1545.78 L589.5 1545.6 L590.5 1545.43 L591.5 1545.26 L592.5 1545.1 L593.5 1544.93 L594.5 1544.77 L595.5 1544.61 L596.5 1544.46 L597.5 1544.3 L598.5 1544.15 L599.5 1544 L600.5 1543.86 L601.5 1543.71 L602.5 1543.57 L603.5 1543.44 L604.5 1543.3 L605.5 1543.17 L606.5 1543.03 L607.5 1542.9 L608.5 1542.77 L609.5 1542.64 L610.5 1542.51 L611.5 1542.39 L612.5 1542.26 L613.5 1542.14 L614.5 1542.01 L615.5 1541.89 L616.5 1541.77 L617.5 1541.65" stroke="#2020ff" stroke-width="3.2"/><path d="M617.5 1541.65 L618.5 1541.53 L619.5 1541.41 L620.5 1541.29 L621.5 1541.18 L622.5 1541.07 L623.5 1540.95 L624.5 1540.84 L625.5 1540.73 L626.5 1540.62 L627.5 1540.52 L628.5 1540.41 L629.5 1540.31 L630.5 1540.2 L631.5 1540.1 L632.5 1540 L633.5 1539.9 L634.5 1539.81 L635.5 1539.71 L636.5 1539.62 L637.5 1539.52 L638.5 1539.43 L639.5 1539.34 L640.5 1539.26 L641.5 1539.17 L642.5 1539.08 L643.5 1538.99 L644.5 1538.91 L645.5 1538.82 L646.5 1538.74 L647.5 1538.65 L648.5 1538.57 L649.5 1538.48 L650.5 1538.4 L651.5 1538.31 L652.5 1538.23 L653.5 1538.14 L654.5 1538.06 L655.5 1537.98 L656.5 1537.89 L657.5 1537.81 L658.5 1537.73 L659.5 1537.64 L660.5 1537.56 L661.5 1537.48 L662.5 1537.39 L663.5 1537.31 L664.5 1537.23 L665.5 1537.15 L666.5 1537.07 L667.5 1536.98 L668.5 1536.9 L669.5 1536.82 L670.5 1536.74 L671.5 1536.66 L672.5 1536.57 L673.5 1536.49 L674.5 1536.41 L675.5 1536.33 L676.5 1536.25 L677.5 1536.16 L678.5 1536.08 L679.5 1536 L680.5 1535.92 L681.5 1535.84 L682.5 1535.75 L683.5 1535.67 L684.5 1535.59 L685.5 1535.51 L686.5 1535.42 L687.5 1535.34 L688.5 1535.26 L689.5 1535.17 L690.5 1535.09 L691.5 1535.01 L692.5 1534.92 L693.5 1534.84 L694.5 1534.75 L695.5 1534.67 L696.5 1534.59 L697.5 1534.5 L698.5 1534.42 L699.5 1534.33 L700.5 1534.24 L701.5 1534.16 L702.5 1534.07 L703.5 1533.99 L704.5 1533.9 L705.5 1533.81 L706.5 1533.72 L707.5 1533.64 L708.5 1533.55 L709.5 1533.46 L710.5 1533.37 L711.5 1533.28 L712.5 1533.19 L713.5 1533.09 L714.5 1533 L715.5 1532.91 L716.5 1532.81 L717.5 1532.72 L718.5 1532.62 L719.5 1532.53 L720.5 1532.43 L721.5 1532.34 L722.5 1532.24 L723.5 1532.14 L724.5 1532.04 L725.5 1531.94 L726.5 1531.85 L727.5 1531.75 L728.5 1531.65 L729.5 1531.55 L730.5 1531.44 L731.5 1531.34 L732.5 1531.24 L733.5 1531.14 L734.5 1531.04 L735.5 1530.93 L736.5 1530.83 L737.5 1530.73 L738.5 1530.63 L739.5 1530.52 L740.5 1530.42 L741.5 1530.31 L742.5 1530.21 L743.5 1530.1 L744.5 1530 L745.5 1529.89 L746.5 1529.79 L747.5 1529.68 L748.5 1529.58 L749.5 1529.47 L750.5 1529.35 L751.5 1529.24 L752.5 1529.13 L753.5 1529.01 L754.5 1528.89" stroke="#2020ff" stroke-width="3"/><path d="M754.5 1528.89 L755.5 1528.77 L756.5 1528.65 L757.5 1528.53 L758.5 1528.4 L759.5 1528.27 L760.5 1528.14 L761.5 1528.01 L762.5 1527.88 L763.5 1527.75 L764.5 1527.61 L765.5 1527.48 L766.5 1527.34 L767.5 1527.2 L768.5 1527.05 L769.5 1526.91 L770.5 1526.76 L771.5 1526.62 L772.5 1526.47 L773.5 1526.32 L774.5 1526.16 L775.5 1526.01 L776.5 1525.85 L777.5 1525.7 L778.5 1525.54 L779.5 1525.38 L780.5 1525.21 L781.5 1525.05 L782.5 1524.88 L783.5 1524.72 L784.5 1524.55 L785.5 1524.38 L786.5 1524.2 L787.5 1524.03 L788.5 1523.85 L789.5 1523.68 L790.5 1523.5 L791.5 1523.32 L792.5 1523.13 L793.5 1522.95 L794.5 1522.76 L795.5 1522.58 L796.5 1522.39 L797.5 1522.2 L798.5 1522 L799.5 1521.81 L800.5 1521.61 L801.5 1521.42 L802.5 1521.22 L803.5 1521.02 L804.5 1520.82 L805.5 1520.61 L806.5 1520.41 L807.5 1520.2 L808.5 1519.99 L809.5 1519.78 L810.5 1519.57 L811.5 1519.36 L812.5 1519.14 L813.5 1518.93 L814.5 1518.71 L815.5 1518.49 L816.5 1518.27 L817.5 1518.04 L818.5 1517.82 L819.5 1517.59 L820.5 1517.36 L821.5 1517.13 L822.5 1516.89 L823.5 1516.66 L824.5 1516.42 L825.5 1516.17 L826.5 1515.93 L827.5 1515.68 L828.5 1515.43 L829.5 1515.18 L830.5 1514.92 L831.5 1514.66 L832.5 1514.4 L833.5 1514.14 L834.5 1513.88 L835.5 1513.61 L836.5 1513.34 L837.5 1513.07 L838.5 1512.79 L839.5 1512.52 L840.5 1512.24 L841.5 1511.96 L842.5 1511.67 L843.5 1511.39 L844.5 1511.1 L845.5 1510.81 L846.5 1510.52 L847.5 1510.22 L848.5 1509.93 L849.5 1509.63 L850.5 1509.33 L851.5 1509.03 L852.5 1508.72 L853.5 1508.41 L854.5 1508.11 L855.5 1507.79 L856.5 1507.48 L857.5 1507.17 L858.5 1506.85 L859.5 1506.53 L860.5 1506.21 L861.5 1505.89 L862.5 1505.56 L863.5 1505.24 L864.5 1504.91 L865.5 1504.58 L866.5 1504.25 L867.5 1503.92 L868.5 1503.58 L869.5 1503.24 L870.5 1502.91 L871.5 1502.56 L872.5 1502.22 L873.5 1501.88 L874.5 1501.53 L875.5 1501.19 L876.5 1500.84 L877.5 1500.49 L878.5 1500.14 L879.5 1499.78 L880.5 1499.43 L881.5 1499.07 L882.5 1498.71 L883.5 1498.36 L884.5 1497.99 L885.5 1497.63 L886.5 1497.27 L887.5 1496.9 L888.5 1496.54 L889.5 1496.17 L890.5 1495.8 L891.5 1495.42 L892.5 1495.05 L893.5 1494.67 L894.5 1494.29 L895.5 1493.91 L896.5 1493.53 L897.5 1493.14 L898.5 1492.76 L899.5 1492.37 L900.5 1491.98 L901.5 1491.59 L902.5 1491.19 L903.5 1490.8 L904.5 1490.4 L905.5 1490 L906.5 1489.61 L907.5 1489.21 L908.5 1488.81 L909.5 1488.4 L910.5 1488 L911.5 1487.6 L912.5 1487.19 L913.5 1486.79 L914.5 1486.38 L915.5 1485.98 L916.5 1485.57 L917.5 1485.16 L918.5 1484.75 L919.5 1484.35 L920.5 1483.94 L921.5 1483.53 L922.5 1483.12 L923.5 1482.71 L924.5 1482.3 L925.5 1481.89 L926.5 1481.49 L927.5 1481.08 L928.5 1480.67 L929.5 1480.26 L930.5 1479.85 L931.5 1479.45 L932.5 1479.04 L933.5 1478.64 L934.5 1478.23 L935.5 1477.83 L936.5 1477.43 L937.5 1477.02 L938.5 1476.62 L939.5 1476.22 L940.5 1475.83 L941.5 1475.43 L942.5 1475.03 L943.5 1474.64 L944.5 1474.24 L945.5 1473.85 L946.5 1473.46 L947.5 1473.07 L948.5 1472.69 L949.5 1472.3 L950.5 1471.92 L951.5 1471.54 L952.5 1471.16 L953.5 1470.78 L954.5 1470.4 L955.5 1470.03 L956.5 1469.66 L957.5 1469.29 L958.5 1468.93 L959.5 1468.56 L960.5 1468.21 L961.5 1467.86 L962.5 1467.52 L963.5 1467.18 L964.5 1466.85 L965.5 1466.53 L966.5 1466.21 L967.5 1465.89 L968.5 1465.57 L969.5 1465.25 L970.5 1464.93 L971.5 1464.61 L972.5 1464.28 L973.5 1463.95 L974.5 1463.62 L975.5 1463.28 L976.5 1462.93 L977.5 1462.58 L978.5 1462.21 L979.5 1461.84 L980.5 1461.46 L981.5 1461.07 L982.5 1460.68 L983.5 1460.29 L984.5 1459.9 L985.5 1459.5 L986.5 1459.11 L987.5 1458.71 L988.5 1458.31 L989.5 1457.91 L990.5 1457.5 L991.5 1457.1 L992.5 1456.69 L993.5 1456.28 L994.5 1455.87 L995.5 1455.46 L996.5 1455.04 L997.5 1454.63 L998.5 1454.21 L999.5 1453.79 L1000.5 1453.38 L1001.5 1452.96 L1002.5 1452.54 L1003.5 1452.12 L1004.5 1451.7 L1005.5 1451.28 L1006.5 1450.85 L1007.5 1450.43 L1008.5 1450.01 L1009.5 1449.59 L1010.5 1449.16 L1011.5 1448.74 L1012.5 1448.32 L1013.5 1447.89 L1014.5 1447.47 L1015.5 1447.05 L1016.5 1446.63 L1017.5 1446.2 L1018.5 1445.78 L1019.5 1445.36 L1020.5 1444.94 L1021.5 1444.52 L1022.5 1444.1 L1023.5 1443.69 L1024.5 1443.27 L1025.5 1442.85 L1026.5 1442.44 L1027.5 1442.03 L1028.5 1441.62 L1029.5 1441.2 L1030.5 1440.8 L1031.5 1440.39 L1032.5 1439.98 L1033.5 1439.58 L1034.5 1439.18 L1035.5 1438.78 L1036.5 1438.38 L1037.5 1437.98 L1038.5 1437.59 L1039.5 1437.2 L1040.5 1436.81 L1041.5 1436.42 L1042.5 1436.03 L1043.5 1435.64 L1044.5 1435.25 L1045.5 1434.86 L1046.5 1434.47 L1047.5 1434.09 L1048.5 1433.7 L1049.5 1433.31 L1050.5 1432.92 L1051.5 1432.54 L1052.5 1432.15 L1053.5 1431.77 L1054.5 1431.38 L1055.5 1431 L1056.5 1430.61 L1057.5 1430.23 L1058.5 1429.85 L1059.5 1429.47 L1060.5 1429.08 L1061.5 1428.7 L1062.5 1428.32 L1063.5 1427.94 L1064.5 1427.56 L1065.5 1427.18 L1066.5 1426.8 L1067.5 1426.43 L1068.5 1426.05 L1069.5 1425.67 L1070.5 1425.3 L1071.5 1424.92 L1072.5 1424.54 L1073.5 1424.17 L1074.5 1423.8 L1075.5 1423.42 L1076.5 1423.05 L1077.5 1422.68 L1078.5 1422.31 L1079.5 1421.94 L1080.5 1421.57 L1081.5 1421.2 L1082.5 1420.84 L1083.5 1420.47 L1084.5 1420.1 L1085.5 1419.74 L1086.5 1419.37 L1087.5 1419.01 L1088.5 1418.65 L1089.5 1418.29 L1090.5 1417.93 L1091.5 1417.57 L1092.5 1417.21 L1093.5 1416.85 L1094.5 1416.49 L1095.5 1416.14 L1096.5 1415.78 L1097.5 1415.43 L1098.5 1415.07 L1099.5 1414.72 L1100.5 1414.37 L1101.5 1414.02 L1102.5 1413.67 L1103.5 1413.33 L1104.5 1412.98 L1105.5 1412.64 L1106.5 1412.31 L1107.5 1411.97 L1108.5 1411.63 L1109.5 1411.3 L1110.5 1410.97 L1111.5 1410.64 L1112.5 1410.31 L1113.5 1409.99 L1114.5 1409.66 L1115.5 1409.34 L1116.5 1409.02 L1117.5 1408.7 L1118.5 1408.38 L1119.5 1408.06 L1120.5 1407.74 L1121.5 1407.43 L1122.5 1407.11 L1123.5 1406.8 L1124.5 1406.49 L1125.5 1406.18 L1126.5 1405.86 L1127.5 1405.55 L1128.5 1405.25 L1129.5 1404.94 L1130.5 1404.63 L1131.5 1404.32 L1132.5 1404.01 L1133.5 1403.71 L1134.5 1403.4 L1135.5 1403.1 L1136.5 1402.79 L1137.5 1402.48 L1138.5 1402.18 L1139.5 1401.87 L1140.5 1401.57 L1141.5 1401.26 L1142.5 1400.96 L1143.5 1400.65 L1144.5 1400.35 L1145.5 1400.04 L1146.5 1399.73 L1147.5 1399.43 L1148.5 1399.12 L1149.5 1398.81 L1150.5 1398.5 L1151.5 1398.19 L1152.5 1397.88 L1153.5 1397.57 L1154.5 1397.26 L1155.5 1396.95 L1156.5 1396.63 L1157.5 1396.32 L1158.5 1396 L1159.5 1395.68 L1160.5 1395.37 L1161.5 1395.05 L1162.5 1394.73 L1163.5 1394.4 L1164.5 1394.08 L1165.5 1393.75 L1166.5 1393.43 L1167.5 1393.1 L1168.5 1392.77 L1169.5 1392.44 L1170.5 1392.1 L1171.5 1391.77 L1172.5 1391.43 L1173.5 1391.09 L1174.5 1390.75 L1175.5 1390.41 L1176.5 1390.07 L1177.5 1389.73 L1178.5 1389.38 L1179.5 1389.04 L1180.5 1388.69 L1181.5 1388.34 L1182.5 1387.99 L1183.5 1387.64 L1184.5 1387.29 L1185.5 1386.94 L1186.5 1386.59 L1187.5 1386.23 L1188.5 1385.88 L1189.5 1385.52 L1190.5 1385.17 L1191.5 1384.81 L1192.5 1384.45 L1193.5 1384.09 L1194.5 1383.73 L1195.5 1383.37 L1196.5 1383.01 L1197.5 1382.64 L1198.5 1382.28 L1199.5 1381.92 L1200.5 1381.55 L1201.5 1381.18 L1202.5 1380.82 L1203.5 1380.45 L1204.5 1380.08 L1205.5 1379.71 L1206.5 1379.34 L1207.5 1378.97 L1208.5 1378.6 L1209.5 1378.23 L1210.5 1377.85 L1211.5 1377.48 L1212.5 1377.11 L1213.5 1376.73 L1214.5 1376.36 L1215.5 1375.98 L1216.5 1375.6 L1217.5 1375.23 L1218.5 1374.85 L1219.5 1374.47 L1220.5 1374.09 L1221.5 1373.71 L1222.5 1373.33 L1223.5 1372.95 L1224.5 1372.57 L1225.5 1372.19 L1226.5 1371.8 L1227.5 1371.42 L1228.5 1371.04 L1229.5 1370.66 L1230.5 1370.27 L1231.5 1369.89 L1232.5 1369.5 L1233.5 1369.12 L1234.5 1368.73 L1235.5 1368.35 L1236.5 1367.96 L1237.5 1367.57 L1238.5 1367.19 L1239.5 1366.8 L1240.5 1366.41 L1241.5 1366.03 L1242.5 1365.64 L1243.5 1365.25 L1244.5 1364.86 L1245.5 1364.47 L1246.5 1364.07 L1247.5 1363.67 L1248.5 1363.27 L1249.5 1362.87 L1250.5 1362.47 L1251.5 1362.06 L1252.5 1361.66 L1253.5 1361.25 L1254.5 1360.83 L1255.5 1360.42 L1256.5 1360 L1257.5 1359.58 L1258.5 1359.16 L1259.5 1358.74 L1260.5 1358.32 L1261.5 1357.89 L1262.5 1357.46 L1263.5 1357.03 L1264.5 1356.6 L1265.5 1356.16 L1266.5 1355.73 L1267.5 1355.29 L1268.5 1354.85 L1269.5 1354.4 L1270.5 1353.96 L1271.5 1353.51 L1272.5 1353.06 L1273.5 1352.61 L1274.5 1352.16 L1275.5 1351.71 L1276.5 1351.25 L1277.5 1350.79 L1278.5 1350.33 L1279.5 1349.87 L1280.5 1349.4 L1281.5 1348.94 L1282.5 1348.47 L1283.5 1348 L1284.5 1347.52 L1285.5 1347.05 L1286.5 1346.57 L1287.5 1346.1 L1288.5 1345.62 L1289.5 1345.13 L1290.5 1344.65 L1291.5 1344.16 L1292.5 1343.68 L1293.5 1343.19 L1294.5 1342.7 L1295.5 1342.2 L1296.5 1341.71 L1297.5 1341.21 L1298.5 1340.71 L1299.5 1340.21 L1300.5 1339.71 L1301.5 1339.2 L1302.5 1338.7 L1303.5 1338.19 L1304.5 1337.68 L1305.5 1337.17 L1306.5 1336.66 L1307.5 1336.14 L1308.5 1335.62 L1309.5 1335.1 L1310.5 1334.58 L1311.5 1334.06 L1312.5 1333.54 L1313.5 1333.01 L1314.5 1332.48 L1315.5 1331.95 L1316.5 1331.41 L1317.5 1330.87 L1318.5 1330.33 L1319.5 1329.78 L1320.5 1329.22 L1321.5 1328.67 L1322.5 1328.1 L1323.5 1327.54 L1324.5 1326.97 L1325.5 1326.39 L1326.5 1325.82 L1327.5 1325.24 L1328.5 1324.65 L1329.5 1324.06 L1330.5 1323.47 L1331.5 1322.87 L1332.5 1322.27 L1333.5 1321.67 L1334.5 1321.06 L1335.5 1320.46 L1336.5 1319.84 L1337.5 1319.23 L1338.5 1318.61 L1339.5 1317.98 L1340.5 1317.36 L1341.5 1316.73 L1342.5 1316.1 L1343.5 1315.46 L1344.5 1314.82 L1345.5 1314.18 L1346.5 1313.54 L1347.5 1312.89 L1348.5 1312.24 L1349.5 1311.59 L1350.5 1310.94 L1351.5 1310.28 L1352.5 1309.62 L1353.5 1308.96 L1354.5 1308.29 L1355.5 1307.63 L1356.5 1306.96 L1357.5 1306.29 L1358.5 1305.61 L1359.5 1304.94 L1360.5 1304.26 L1361.5 1303.58 L1362.5 1302.9 L1363.5 1302.21 L1364.5 1301.53 L1365.5 1300.84 L1366.5 1300.15 L1367.5 1299.46 L1368.5 1298.77 L1369.5 1298.07 L1370.5 1297.38 L1371.5 1296.68 L1372.5 1295.98 L1373.5 1295.28 L1374.5 1294.58 L1375.5 1293.88 L1376.5 1293.17 L1377.5 1292.47 L1378.5 1291.76 L1379.5 1291.05 L1380.5 1290.34 L1381.5 1289.64 L1382.5 1288.92 L1383.5 1288.21 L1384.5 1287.5 L1385.5 1286.79 L1386.5 1286.08 L1387.5 1285.36 L1388.5 1284.65 L1389.5 1283.94 L1390.5 1283.23 L1391.5 1282.52 L1392.5 1281.81 L1393.5 1281.1 L1394.5 1280.39 L1395.5 1279.67 L1396.5 1278.96 L1397.5 1278.24 L1398.5 1277.53 L1399.5 1276.81 L1400.5 1276.09 L1401.5 1275.36 L1402.5 1274.64 L1403.5 1273.91 L1404.5 1273.18 L1405.5 1272.45 L1406.5 1271.71 L1407.5 1270.97 L1408.5 1270.23 L1409.5 1269.48 L1410.5 1268.73 L1411.5 1267.98 L1412.5 1267.22 L1413.5 1266.46 L1414.5 1265.69 L1415.5 1264.92 L1416.5 1264.14 L1417.5 1263.36 L1418.5 1262.57 L1419.5 1261.78 L1420.5 1260.98 L1421.5 1260.18 L1422.5 1259.37 L1423.5 1258.55 L1424.5 1257.73 L1425.5 1256.9 L1426.5 1256.06 L1427.5 1255.21 L1428.5 1254.36 L1429.5 1253.5 L1430.5 1252.64 L1431.5 1251.76 L1432.5 1250.88 L1433.5 1249.99 L1434.5 1249.09 L1435.5 1248.19 L1436.5 1247.27 L1437.5 1246.34 L1438.5 1245.41 L1439.5 1244.47 L1440.5 1243.51 L1441.5 1242.55 L1442.5 1241.58 L1443.5 1240.59 L1444.5 1239.6 L1445.5 1238.61 L1446.5 1237.61 L1447.5 1236.61 L1448.5 1235.61 L1449.5 1234.6 L1450.5 1233.6 L1451.5 1232.59 L1452.5 1231.59 L1453.5 1230.58 L1454.5 1229.57 L1455.5 1228.56 L1456.5 1227.54 L1457.5 1226.53 L1458.5 1225.52 L1459.5 1224.5 L1460.5 1223.49 L1461.5 1222.47 L1462.5 1221.46 L1463.5 1220.44 L1464.5 1219.42 L1465.5 1218.4 L1466.5 1217.39 L1467.5 1216.37 L1468.5 1215.35 L1469.5 1214.33 L1470.5 1213.31 L1471.5 1212.3 L1472.5 1211.28 L1473.5 1210.26 L1474.5 1209.24 L1475.5 1208.23 L1476.5 1207.21 L1477.5 1206.2 L1478.5 1205.18 L1479.5 1204.17 L1480.5 1203.16 L1481.5 1202.15 L1482.5 1201.13 L1483.5 1200.13 L1484.5 1199.12 L1485.5 1198.11 L1486.5 1197.11 L1487.5 1196.1 L1488.5 1195.1 L1489.5 1194.1 L1490.5 1193.1 L1491.5 1192.1 L1492.5 1191.1 L1493.5 1190.11 L1494.5 1189.11 L1495.5 1188.11 L1496.5 1187.11 L1497.5 1186.12 L1498.5 1185.12 L1499.5 1184.12 L1500.5 1183.12 L1501.5 1182.12 L1502.5 1181.13 L1503.5 1180.13 L1504.5 1179.13 L1505.5 1178.13 L1506.5 1177.14 L1507.5 1176.14 L1508.5 1175.14 L1509.5 1174.14 L1510.5 1173.14 L1511.5 1172.15 L1512.5 1171.15 L1513.5 1170.15 L1514.5 1169.15 L1515.5 1168.16 L1516.5 1167.16 L1517.5 1166.16 L1518.5 1165.16 L1519.5 1164.17 L1520.5 1163.17 L1521.5 1162.17 L1522.5 1161.17 L1523.5 1160.17 L1524.5 1159.18 L1525.5 1158.18 L1526.5 1157.18 L1527.5 1156.18 L1528.5 1155.19 L1529.5 1154.19 L1530.5 1153.19 L1531.5 1152.19 L1532.5 1151.19 L1533.5 1150.2 L1534.5 1149.2 L1535.5 1148.2 L1536.5 1147.2 L1537.5 1146.2 L1538.5 1145.2 L1539.5 1144.21 L1540.5 1143.21 L1541.5 1142.21 L1542.5 1141.21 L1543.5 1140.21 L1544.5 1139.21 L1545.5 1138.21 L1546.5 1137.21 L1547.5 1136.21 L1548.5 1135.22 L1549.5 1134.22 L1550.5 1133.22 L1551.5 1132.22 L1552.5 1131.22 L1553.5 1130.22 L1554.5 1129.22 L1555.5 1128.22 L1556.5 1127.22 L1557.5 1126.22 L1558.5 1125.22 L1559.5 1124.22 L1560.5 1123.22 L1561.5 1122.22 L1562.5 1121.22 L1563.5 1120.22 L1564.5 1119.21 L1565.5 1118.21 L1566.5 1117.21 L1567.5 1116.21 L1568.5 1115.21 L1569.5 1114.21 L1570.5 1113.21 L1571.5 1112.21 L1572.5 1111.21 L1573.5 1110.21 L1574.5 1109.21 L1575.5 1108.21 L1576.5 1107.2 L1577.5 1106.2 L1578.5 1105.2 L1579.5 1104.2 L1580.5 1103.2 L1581.5 1102.2 L1582.5 1101.19 L1583.5 1100.18 L1584.5 1099.17 L1585.5 1098.15 L1586.5 1097.13 L1587.5 1096.1 L1588.5 1095.07 L1589.5 1094.04 L1590.5 1093 L1591.5 1091.96 L1592.5 1090.91 L1593.5 1089.87 L1594.5 1088.81 L1595.5 1087.76 L1596.5 1086.7 L1597.5 1085.63 L1598.5 1084.57 L1599.5 1083.5 L1600.5 1082.43 L1601.5 1081.35 L1602.5 1080.28 L1603.5 1079.2 L1604.5 1078.11 L1605.5 1077.03 L1606.5 1075.94 L1607.5 1074.85 L1608.5 1073.76 L1609.5 1072.66 L1610.5 1071.57 L1611.5 1070.47 L1612.5 1069.37 L1613.5 1068.26 L1614.5 1067.16 L1615.5 1066.05 L1616.5 1064.94 L1617.5 1063.83 L1618.5 1062.72 L1619.5 1061.61 L1620.5 1060.49 L1621.5 1059.38 L1622.5 1058.26 L1623.5 1057.15 L1624.5 1056.03 L1625.5 1054.91 L1626.5 1053.79 L1627.5 1052.66 L1628.5 1051.53 L1629.5 1050.4 L1630.5 1049.26 L1631.5 1048.11 L1632.5 1046.96 L1633.5 1045.8 L1634.5 1044.64 L1635.5 1043.47 L1636.5 1042.29 L1637.5 1041.12 L1638.5 1039.93 L1639.5 1038.74 L1640.5 1037.55 L1641.5 1036.35 L1642.5 1035.15 L1643.5 1033.94 L1644.5 1032.73 L1645.5 1031.51 L1646.5 1030.29 L1647.5 1029.07 L1648.5 1027.84 L1649.5 1026.61 L1650.5 1025.37 L1651.5 1024.13 L1652.5 1022.88 L1653.5 1021.63 L1654.5 1020.38 L1655.5 1019.13 L1656.5 1017.87 L1657.5 1016.61 L1658.5 1015.34 L1659.5 1014.07 L1660.5 1012.8 L1661.5 1011.52 L1662.5 1010.25 L1663.5 1008.97 L1664.5 1007.68 L1665.5 1006.4 L1666.5 1005.11 L1667.5 1003.82 L1668.5 1002.52 L1669.5 1001.23 L1670.5 999.93 L1671.5 998.63 L1672.5 997.33 L1673.5 996.02 L1674.5 994.7 L1675.5 993.38 L1676.5 992.05 L1677.5 990.72 L1678.5 989.38 L1679.5 988.03 L1680.5 986.68 L1681.5 985.33 L1682.5 983.97 L1683.5 982.6 L1684.5 981.23 L1685.5 979.86 L1686.5 978.48 L1687.5 977.09 L1688.5 975.7 L1689.5 974.31 L1690.5 972.92 L1691.5 971.52 L1692.5 970.11 L1693.5 968.71 L1694.5 967.3 L1695.5 965.88 L1696.5 964.47 L1697.5 963.05 L1698.5 961.62 L1699.5 960.2 L1700.5 958.77 L1701.5 957.34 L1702.5 955.91 L1703.5 954.47 L1704.5 953.04 L1705.5 951.6 L1706.5 950.16 L1707.5 948.71 L1708.5 947.27 L1709.5 945.83 L1710.5 944.38 L1711.5 942.93 L1712.5 941.48 L1713.5 940.03 L1714.5 938.58 L1715.5 937.13 L1716.5 935.68 L1717.5 934.23 L1718.5 932.76 L1719.5 931.29 L1720.5 929.81 L1721.5 928.31 L1722.5 926.81 L1723.5 925.29 L1724.5 923.76 L1725.5 922.22 L1726.5 920.66 L1727.5 919.09 L1728.5 917.51 L1729.5 915.91 L1730.5 914.3 L1731.5 912.67 L1732.5 911.03 L1733.5 909.38 L1734.5 907.7 L1735.5 906.01 L1736.5 904.3 L1737.5 902.58 L1738.5 900.84 L1739.5 899.08 L1740.5 897.29 L1741.5 895.48 L1742.5 893.63 L1743.5 891.76 L1744.5 889.85 L1745.5 887.92 L1746.5 885.97 L1747.5 883.99 L1748.5 881.98 L1749.5 879.96 L1750.5 877.91 L1751.5 875.84 L1752.5 873.76 L1753.5 871.66 L1754.5 869.54 L1755.5 867.41 L1756.5 865.26 L1757.5 863.1 L1758.5 860.94 L1759.5 858.76 L1760.5 856.57 L1761.5 854.37 L1762.5 852.17 L1763.5 849.96 L1764.5 847.75 L1765.5 845.54 L1766.5 843.32 L1767.5 841.11 L1768.5 838.89 L1769.5 836.68 L1770.5 834.46 L1771.5 832.23 L1772.5 830 L1773.5 827.77 L1774.5 825.53 L1775.5 823.29 L1776.5 821.03 L1777.5 818.77 L1778.5 816.5 L1779.5 814.21 L1780.5 811.92 L1781.5 809.61 L1782.5 807.3 L1783.5 804.96 L1784.5 802.62 L1785.5 800.25 L1786.5 797.87 L1787.5 795.48 L1788.5 793.06 L1789.5 790.63 L1790.5 788.18 L1791.5 785.7 L1792.5 783.21 L1793.5 780.69 L1794.5 778.15 L1795.5 775.59 L1796.5 773 L1797.5 770.39 L1798.5 767.74 L1799.5 765.08 L1800.5 762.38 L1801.5 759.66 L1802.5 756.9 L1803.5 754.11 L1804.5 751.3 L1805.5 748.45 L1806.5 745.58 L1807.5 742.68 L1808.5 739.76 L1809.5 736.81 L1810.5 733.84 L1811.5 730.85 L1812.5 727.83 L1813.5 724.8 L1814.5 721.74 L1815.5 718.67 L1816.5 715.58 L1817.5 712.48 L1818.5 709.36 L1819.5 706.23 L1820.5 703.09 L1821.5 699.93 L1822.5 696.77 L1823.5 693.59 L1824.5 690.41 L1825.5 687.22 L1826.5 684.03 L1827.5 680.83 L1828.5 677.62 L1829.5 674.42 L1830.5 671.21 L1831.5 668 L1832.5 664.8 L1833.5 661.61 L1834.5 658.44 L1835.5 655.28 L1836.5 652.12 L1837.5 648.97 L1838.5 645.83 L1839.5 642.68 L1840.5 639.52 L1841.5 636.36 L1842.5 633.19 L1843.5 630 L1844.5 626.79 L1845.5 623.56 L1846.5 620.31 L1847.5 617.03 L1848.5 613.71 L1849.5 610.36 L1850.5 606.98 L1851.5 603.55 L1852.5 600.08 L1853.5 596.56 L1854.5 592.99 L1855.5 589.36 L1856.5 585.67 L1857.5 581.93 L1858.5 578.12 L1859.5 574.24 L1860.5 570.33 L1861.5 566.4 L1862.5 562.44 L1863.5 558.46 L1864.5 554.47 L1865.5 550.47 L1866.5 546.45 L1867.5 542.42 L1868.5 538.39 L1869.5 534.36 L1870.5 530.33 L1871.5 526.3 L1872.5 522.28 L1873.5 518.27 L1874.5 514.27 L1875.5 510.28 L1876.5 506.32 L1877.5 502.38 L1878.5 498.46 L1879.5 494.56 L1880.5 490.67 L1881.5 486.79 L1882.5 482.91 L1883.5 479.03 L1884.5 475.13 L1885.5 471.22 L1886.5 467.29 L1887.5 463.33 L1888.5 459.34 L1889.5 455.31 L1890.5 451.23 L1891.5 447.09 L1892.5 442.82 L1893.5 438.44 L1894.5 433.97 L1895.5 429.43 L1896.5 424.82 L1897.5 420.17 L1898.5 415.49 L1899.5 410.79 L1900.5 406.11 L1901.5 401.45 L1902.5 396.82 L1903.5 392.25 L1904.5 387.75 L1905.5 383.3 L1906.5 378.85 L1907.5 374.42 L1908.5 370 L1909.5 365.58 L1910.5 361.18 L1911.5 356.79 L1912.5 352.4 L1913.5 348.02 L1914.5 343.64 L1915.5 339.27 L1916.5 334.93 L1917.5 330.67 L1918.5 326.49 L1919.5 322.37 L1920.5 318.33 L1921.5 314.36 L1922.5 310.45 L1923.5 306.6 L1924.5 302.81 L1925.5 299.07 L1926.5 295.39 L1927.5 291.76 L1928.5 288.32 L1929.5 285.07 L1930.5 282.01 L1931.5 279.11 L1932.5 276.38 L1933.5 273.79 L1934.5 271.33 L1935.5 268.99 L1936.5 266.76 L1937.5 264.62 L1938.5 262.57 L1939.5 260.58 L1939.8 260 L1940.8 256.16 L1941.8 252.31 L1942.8 248.47 L1943.8 244.63 L1944.8 240.79 L1945.8 236.94 L1946.8 233.1 L1947.8 229.26 L1948.8 225.42 L1949.8 221.57 L1950.6 218.5 L1950.8 217.95 L1951.8 215.18 L1952.8 212.41 L1953.8 209.65 L1954.8 206.88 L1955.8 204.11 L1956.8 201.35 L1957.8 198.58 L1958.8 195.81 L1959.6 193.6 L1959.8 193.18 L1960.8 191.05 L1961.8 188.93 L1962.8 186.81 L1963.8 184.69 L1964.8 182.57 L1965.8 180.45 L1966.8 178.33 L1967.8 176.21 L1968.7 174.3 L1968.8 174.16 L1969.8 172.78 L1970.8 171.41 L1971.8 170.03 L1972.8 168.65 L1973.8 167.27 L1974.8 165.9 L1975.8 164.52 L1976.8 163.14 L1977.7 161.9 L1977.8 161.84 L1978.8 161.25 L1979.8 160.67 L1980.8 160.08 L1981.8 159.49 L1982.8 158.9 L1983.8 158.32 L1984.8 157.73 L1985.8 157.14 L1986.8 156.55 L1987.4 156.2 L1987.8 156.29 L1988.8 156.51 L1989.8 156.72 L1990.8 156.94 L1991.8 157.16 L1992.8 157.38 L1993.8 157.6 L1994.8 157.82 L1995.8 158.04 L1996.8 158.26 L1997 158.3 L1997.8 159.38 L1998.8 160.72 L1999.8 162.06 L2000.8 163.41 L2001.8 164.75 L2002.8 166.1 L2003.8 167.44 L2004.8 168.79 L2005.8 170.13 L2006 170.4 L2006.8 172.69 L2007.8 175.55 L2008.8 178.4 L2009.8 181.26 L2010.8 184.12 L2011.8 186.98 L2012.8 189.84 L2013.8 192.7 L2014.5 194.7 L2014.8 196.2 L2015.8 201.22 L2016.8 206.23 L2017.8 211.24 L2018.8 216.25 L2019.8 221.26 L2020.8 226.28 L2021.8 231.29 L2022.8 236.3" stroke="#2020ff" stroke-width="3.2"/>
<path d="M250.5 1597.5 L251.5 1596.23 L252.5 1594.95 L253.5 1593.66 L254.5 1592.35 L255.5 1591.04 L256.5 1589.7 L257.5 1588.34 L258.5 1586.97 L259.5 1585.61 L260.5 1584.26 L261.5 1582.95 L262.5 1581.67 L263.5 1580.42 L264.5 1579.2 L265.5 1578.01 L266.5 1576.83 L267.5 1575.66 L268.5 1574.51 L269.5 1573.37 L270.5 1572.25 L271.5 1571.14 L272.5 1570.06 L273.5 1568.99 L274.5 1567.95 L275.5 1566.93 L276.5 1565.94 L277.5 1564.97 L278.5 1564.04 L279.5 1563.13 L280.5 1562.25 L281.5 1561.38 L282.5 1560.53 L283.5 1559.7 L284.5 1558.88 L285.5 1558.08 L286.5 1557.3 L287.5 1556.53 L288.5 1555.77 L289.5 1555.03 L290.5 1554.3 L291.5 1553.58 L292.5 1552.86 L293.5 1552.14 L294.5 1551.43 L295.5 1550.73 L296.5 1550.03 L297.5 1549.34 L298.5 1548.65 L299.5 1547.98 L300.5 1547.31 L301.5 1546.66 L302.5 1546.01 L303.5 1545.37 L304.5 1544.74 L305.5 1544.11 L306.5 1543.49 L307.5 1542.88 L308.5 1542.27 L309.5 1541.68 L310.5 1541.1 L311.5 1540.53 L312.5 1539.98 L313.5 1539.44 L314.5 1538.91 L315.5 1538.37 L316.5 1537.85 L317.5 1537.32 L318.5 1536.8 L319.5 1536.28 L320.5 1535.77 L321.5 1535.26 L322.5 1534.75 L323.5 1534.24 L324.5 1533.74 L325.5 1533.24 L326.5 1532.75 L327.5 1532.26 L328.5 1531.77 L329.5 1531.28 L330.5 1530.8 L331.5 1530.32 L332.5 1529.84 L333.5 1529.37 L334.5 1528.9 L335.5 1528.44 L336.5 1527.98 L337.5 1527.52 L338.5 1527.06 L339.5 1526.61 L340.5 1526.16 L341.5 1525.7 L342.5 1525.26 L343.5 1524.81 L344.5 1524.36 L345.5 1523.92 L346.5 1523.47 L347.5 1523.03 L348.5 1522.58 L349.5 1522.14 L350.5 1521.7 L351.5 1521.25 L352.5 1520.81 L353.5 1520.36 L354.5 1519.91 L355.5 1519.46 L356.5 1519.01 L357.5 1518.56 L358.5 1518.1 L359.5 1517.64 L360.5 1517.19 L361.5 1516.74 L362.5 1516.28 L363.5 1515.83 L364.5 1515.38 L365.5 1514.93 L366.5 1514.47 L367.5 1514.02 L368.5 1513.56 L369.5 1513.11 L370.5 1512.65 L371.5 1512.19 L372.5 1511.73 L373.5 1511.26 L374.5 1510.8 L375.5 1510.33 L376.5 1509.85 L377.5 1509.37 L378.5 1508.89 L379.5 1508.4 L380.5 1507.91 L381.5 1507.42 L382.5 1506.92 L383.5 1506.41 L384.5 1505.9 L385.5 1505.38 L386.5 1504.85 L387.5 1504.32 L388.5 1503.78 L389.5 1503.23 L390.5 1502.68 L391.5 1502.11 L392.5 1501.54 L393.5 1500.97 L394.5 1500.39 L395.5 1499.8 L396.5 1499.21 L397.5 1498.62 L398.5 1498.02 L399.5 1497.42 L400.5 1496.81 L401.5 1496.2 L402.5 1495.59 L403.5 1494.97 L404.5 1494.34 L405.5 1493.71 L406.5 1493.08 L407.5 1492.45 L408.5 1491.81 L409.5 1491.17 L410.5 1490.52 L411.5 1489.87 L412.5 1489.22 L413.5 1488.56 L414.5 1487.9 L415.5 1487.24 L416.5 1486.58 L417.5 1485.91 L418.5 1485.24 L419.5 1484.57 L420.5 1483.89 L421.5 1483.21 L422.5 1482.53 L423.5 1481.85 L424.5 1481.16 L425.5 1480.47 L426.5 1479.78 L427.5 1479.09 L428.5 1478.4 L429.5 1477.7 L430.5 1477 L431.5 1476.3 L432.5 1475.6 L433.5 1474.9 L434.5 1474.19 L435.5 1473.49 L436.5 1472.78 L437.5 1472.07 L438.5 1471.36 L439.5 1470.65 L440.5 1469.94 L441.5 1469.23 L442.5 1468.52 L443.5 1467.8 L444.5 1467.09 L445.5 1466.37 L446.5 1465.66 L447.5 1464.94 L448.5 1464.22 L449.5 1463.51 L450.5 1462.79 L451.5 1462.08 L452.5 1461.36 L453.5 1460.64 L454.5 1459.93 L455.5 1459.21 L456.5 1458.49 L457.5 1457.78 L458.5 1457.06 L459.5 1456.35 L460.5 1455.64 L461.5 1454.92 L462.5 1454.21 L463.5 1453.5 L464.5 1452.79 L465.5 1452.08 L466.5 1451.36 L467.5 1450.65 L468.5 1449.93 L469.5 1449.22 L470.5 1448.5 L471.5 1447.78 L472.5 1447.07 L473.5 1446.35 L474.5 1445.63 L475.5 1444.91 L476.5 1444.19 L477.5 1443.47 L478.5 1442.74 L479.5 1442.02 L480.5 1441.3 L481.5 1440.58 L482.5 1439.85 L483.5 1439.13 L484.5 1438.41 L485.5 1437.68 L486.5 1436.96 L487.5 1436.23 L488.5 1435.51 L489.5 1434.78 L490.5 1434.06 L491.5 1433.33 L492.5 1432.6 L493.5 1431.88 L494.5 1431.15 L495.5 1430.43 L496.5 1429.7 L497.5 1428.97 L498.5 1428.25 L499.5 1427.52 L500.5 1426.8 L501.5 1426.07 L502.5 1425.35 L503.5 1424.62 L504.5 1423.89 L505.5 1423.17 L506.5 1422.44 L507.5 1421.72 L508.5 1421 L509.5 1420.27 L510.5 1419.55 L511.5 1418.83 L512.5 1418.1 L513.5 1417.38 L514.5 1416.66 L515.5 1415.94 L516.5 1415.22 L517.5 1414.5 L518.5 1413.78 L519.5 1413.06 L520.5 1412.34 L521.5 1411.62 L522.5 1410.9 L523.5 1410.19 L524.5 1409.47 L525.5 1408.76 L526.5 1408.04 L527.5 1407.33 L528.5 1406.62 L529.5 1405.91 L530.5 1405.2 L531.5 1404.49 L532.5 1403.78 L533.5 1403.07 L534.5 1402.36 L535.5 1401.66 L536.5 1400.95 L537.5 1400.25 L538.5 1399.54 L539.5 1398.84 L540.5 1398.13 L541.5 1397.43 L542.5 1396.73 L543.5 1396.03 L544.5 1395.33 L545.5 1394.63 L546.5 1393.93 L547.5 1393.23 L548.5 1392.53 L549.5 1391.84 L550.5 1391.14 L551.5 1390.45 L552.5 1389.75 L553.5 1389.06 L554.5 1388.37 L555.5 1387.68 L556.5 1386.99 L557.5 1386.3 L558.5 1385.61 L559.5 1384.92 L560.5 1384.24 L561.5 1383.55 L562.5 1382.87 L563.5 1382.18 L564.5 1381.5 L565.5 1380.82 L566.5 1380.14 L567.5 1379.47 L568.5 1378.79 L569.5 1378.12 L570.5 1377.44 L571.5 1376.77 L572.5 1376.1 L573.5 1375.43 L574.5 1374.76 L575.5 1374.1 L576.5 1373.43 L577.5 1372.77 L578.5 1372.1 L579.5 1371.44 L580.5 1370.78 L581.5 1370.13 L582.5 1369.47 L583.5 1368.82 L584.5 1368.17 L585.5 1367.51 L586.5 1366.87 L587.5 1366.22 L588.5 1365.57 L589.5 1364.93 L590.5 1364.29 L591.5 1363.65 L592.5 1363.01 L593.5 1362.37 L594.5 1361.74 L595.5 1361.1 L596.5 1360.47 L597.5 1359.84 L598.5 1359.22 L599.5 1358.59 L600.5 1357.97 L601.5 1357.35 L602.5 1356.73 L603.5 1356.11 L604.5 1355.5 L605.5 1354.89 L606.5 1354.29 L607.5 1353.7 L608.5 1353.12 L609.5 1352.55 L610.5 1351.99 L611.5 1351.43 L612.5 1350.88 L613.5 1350.33 L614.5 1349.79 L615.5 1349.26 L616.5 1348.73 L617.5 1348.2 L618.5 1347.68 L619.5 1347.16 L620.5 1346.64 L621.5 1346.12 L622.5 1345.61 L623.5 1345.09 L624.5 1344.58 L625.5 1344.06 L626.5 1343.54 L627.5 1343.03 L628.5 1342.51 L629.5 1341.98 L630.5 1341.46 L631.5 1340.93 L632.5 1340.39 L633.5 1339.86 L634.5 1339.31 L635.5 1338.76 L636.5 1338.21 L637.5 1337.64 L638.5 1337.07 L639.5 1336.49 L640.5 1335.91 L641.5 1335.32 L642.5 1334.73 L643.5 1334.15 L644.5 1333.56 L645.5 1332.98 L646.5 1332.39 L647.5 1331.8 L648.5 1331.22 L649.5 1330.63 L650.5 1330.04 L651.5 1329.45 L652.5 1328.87 L653.5 1328.27 L654.5 1327.68 L655.5 1327.09 L656.5 1326.5 L657.5 1325.9 L658.5 1325.3 L659.5 1324.7 L660.5 1324.1 L661.5 1323.49 L662.5 1322.89 L663.5 1322.28 L664.5 1321.66 L665.5 1321.05 L666.5 1320.43 L667.5 1319.81 L668.5 1319.18 L669.5 1318.55 L670.5 1317.92 L671.5 1317.28 L672.5 1316.64 L673.5 1316 L674.5 1315.35 L675.5 1314.7 L676.5 1314.05 L677.5 1313.39 L678.5 1312.73 L679.5 1312.08 L680.5 1311.42 L681.5 1310.77 L682.5 1310.11 L683.5 1309.46 L684.5 1308.8 L685.5 1308.14 L686.5 1307.49 L687.5 1306.83 L688.5 1306.17 L689.5 1305.51 L690.5 1304.86 L691.5 1304.2 L692.5 1303.54 L693.5 1302.88 L694.5 1302.23 L695.5 1301.57 L696.5 1300.91 L697.5 1300.25 L698.5 1299.59 L699.5 1298.93 L700.5 1298.28 L701.5 1297.62 L702.5 1296.96 L703.5 1296.3 L704.5 1295.64 L705.5 1294.98 L706.5 1294.32 L707.5 1293.66 L708.5 1293 L709.5 1292.35 L710.5 1291.69 L711.5 1291.03 L712.5 1290.37 L713.5 1289.71 L714.5 1289.05 L715.5 1288.39 L716.5 1287.73 L717.5 1287.07 L718.5 1286.41 L719.5 1285.75 L720.5 1285.09 L721.5 1284.43 L722.5 1283.77 L723.5 1283.11 L724.5 1282.46 L725.5 1281.8 L726.5 1281.14 L727.5 1280.48 L728.5 1279.82 L729.5 1279.16 L730.5 1278.5 L731.5 1277.84 L732.5 1277.18 L733.5 1276.53 L734.5 1275.87 L735.5 1275.21 L736.5 1274.56 L737.5 1273.9 L738.5 1273.25 L739.5 1272.6 L740.5 1271.94 L741.5 1271.29 L742.5 1270.64 L743.5 1269.98 L744.5 1269.33 L745.5 1268.68 L746.5 1268.03 L747.5 1267.38 L748.5 1266.72 L749.5 1266.07 L750.5 1265.42 L751.5 1264.77 L752.5 1264.11 L753.5 1263.46 L754.5 1262.8 L755.5 1262.15 L756.5 1261.5 L757.5 1260.84 L758.5 1260.19 L759.5 1259.53 L760.5 1258.87 L761.5 1258.21 L762.5 1257.55 L763.5 1256.9 L764.5 1256.23 L765.5 1255.57 L766.5 1254.91 L767.5 1254.25 L768.5 1253.58 L769.5 1252.92 L770.5 1252.25 L771.5 1251.58 L772.5 1250.91 L773.5 1250.24 L774.5 1249.57 L775.5 1248.89 L776.5 1248.22 L777.5 1247.54 L778.5 1246.86 L779.5 1246.18 L780.5 1245.5 L781.5 1244.82 L782.5 1244.13 L783.5 1243.44 L784.5 1242.75 L785.5 1242.06 L786.5 1241.36 L787.5 1240.65 L788.5 1239.92 L789.5 1239.18 L790.5 1238.43 L791.5 1237.67 L792.5 1236.9 L793.5 1236.11 L794.5 1235.32 L795.5 1234.52 L796.5 1233.71 L797.5 1232.89 L798.5 1232.06 L799.5 1231.23 L800.5 1230.39 L801.5 1229.54 L802.5 1228.68 L803.5 1227.82 L804.5 1226.95 L805.5 1226.08 L806.5 1225.2 L807.5 1224.32 L808.5 1223.43 L809.5 1222.54 L810.5 1221.64 L811.5 1220.75 L812.5 1219.85 L813.5 1218.95 L814.5 1218.04 L815.5 1217.14 L816.5 1216.23 L817.5 1215.33 L818.5 1214.42 L819.5 1213.52 L820.5 1212.61 L821.5 1211.71 L822.5 1210.81 L823.5 1209.91 L824.5 1209.01 L825.5 1208.11 L826.5 1207.22 L827.5 1206.34 L828.5 1205.45 L829.5 1204.57 L830.5 1203.7 L831.5 1202.83 L832.5 1201.96 L833.5 1201.09 L834.5 1200.22 L835.5 1199.35 L836.5 1198.48 L837.5 1197.62 L838.5 1196.75 L839.5 1195.88 L840.5 1195.02 L841.5 1194.15 L842.5 1193.28 L843.5 1192.42 L844.5 1191.55 L845.5 1190.69 L846.5 1189.82 L847.5 1188.95 L848.5 1188.09 L849.5 1187.22 L850.5 1186.35 L851.5 1185.48 L852.5 1184.62 L853.5 1183.75 L854.5 1182.88 L855.5 1182.01 L856.5 1181.14 L857.5 1180.27 L858.5 1179.39 L859.5 1178.52 L860.5 1177.65 L861.5 1176.77 L862.5 1175.89 L863.5 1175.02 L864.5 1174.14 L865.5 1173.26 L866.5 1172.38 L867.5 1171.49 L868.5 1170.61 L869.5 1169.72 L870.5 1168.83 L871.5 1167.94 L872.5 1167.05 L873.5 1166.16 L874.5 1165.27 L875.5 1164.37 L876.5 1163.47 L877.5 1162.57 L878.5 1161.67 L879.5 1160.77 L880.5 1159.87 L881.5 1158.98 L882.5 1158.08 L883.5 1157.18 L884.5 1156.27 L885.5 1155.37 L886.5 1154.47 L887.5 1153.57 L888.5 1152.67 L889.5 1151.77 L890.5 1150.87 L891.5 1149.97 L892.5 1149.07 L893.5 1148.17 L894.5 1147.26 L895.5 1146.36 L896.5 1145.46 L897.5 1144.56 L898.5 1143.66 L899.5 1142.75 L900.5 1141.85 L901.5 1140.95 L902.5 1140.05 L903.5 1139.15 L904.5 1138.25 L905.5 1137.34 L906.5 1136.44 L907.5 1135.54 L908.5 1134.64 L909.5 1133.74 L910.5 1132.84 L911.5 1131.94 L912.5 1131.04 L913.5 1130.14 L914.5 1129.24 L915.5 1128.34 L916.5 1127.44 L917.5 1126.54 L918.5 1125.64 L919.5 1124.74 L920.5 1123.84 L921.5 1122.94 L922.5 1122.04 L923.5 1121.14 L924.5 1120.24 L925.5 1119.35 L926.5 1118.45 L927.5 1117.55 L928.5 1116.65 L929.5 1115.75 L930.5 1114.85 L931.5 1113.96 L932.5 1113.06 L933.5 1112.16 L934.5 1111.26 L935.5 1110.36 L936.5 1109.46 L937.5 1108.56 L938.5 1107.67 L939.5 1106.77 L940.5 1105.87 L941.5 1104.97 L942.5 1104.07 L943.5 1103.17 L944.5 1102.28 L945.5 1101.38 L946.5 1100.48 L947.5 1099.58 L948.5 1098.68 L949.5 1097.78 L950.5 1096.89 L951.5 1095.99 L952.5 1095.09 L953.5 1094.19 L954.5 1093.29 L955.5 1092.39 L956.5 1091.49 L957.5 1090.6 L958.5 1089.7 L959.5 1088.8 L960.5 1087.9 L961.5 1087 L962.5 1086.1 L963.5 1085.21 L964.5 1084.31 L965.5 1083.41 L966.5 1082.51 L967.5 1081.61 L968.5 1080.71 L969.5 1079.81 L970.5 1078.91 L971.5 1078.01 L972.5 1077.12 L973.5 1076.22 L974.5 1075.32 L975.5 1074.42 L976.5 1073.51 L977.5 1072.61 L978.5 1071.71 L979.5 1070.81 L980.5 1069.91 L981.5 1069.01 L982.5 1068.11 L983.5 1067.21 L984.5 1066.31 L985.5 1065.41 L986.5 1064.51 L987.5 1063.61 L988.5 1062.7 L989.5 1061.8 L990.5 1060.9 L991.5 1060 L992.5 1059.1 L993.5 1058.2 L994.5 1057.3 L995.5 1056.4 L996.5 1055.49 L997.5 1054.59 L998.5 1053.69 L999.5 1052.79 L1000.5 1051.89 L1001.5 1050.99 L1002.5 1050.09 L1003.5 1049.19 L1004.5 1048.29 L1005.5 1047.39 L1006.5 1046.49 L1007.5 1045.59 L1008.5 1044.69 L1009.5 1043.79 L1010.5 1042.89 L1011.5 1041.99 L1012.5 1041.09 L1013.5 1040.2 L1014.5 1039.31 L1015.5 1038.42 L1016.5 1037.53 L1017.5 1036.65 L1018.5 1035.77 L1019.5 1034.89 L1020.5 1034.01 L1021.5 1033.14 L1022.5 1032.27 L1023.5 1031.4 L1024.5 1030.54 L1025.5 1029.67 L1026.5 1028.81 L1027.5 1027.96 L1028.5 1027.1 L1029.5 1026.24 L1030.5 1025.39 L1031.5 1024.54 L1032.5 1023.69 L1033.5 1022.85 L1034.5 1022 L1035.5 1021.16 L1036.5 1020.32 L1037.5 1019.48 L1038.5 1018.64 L1039.5 1017.8 L1040.5 1016.96 L1041.5 1016.13 L1042.5 1015.3 L1043.5 1014.46 L1044.5 1013.63 L1045.5 1012.8 L1046.5 1011.97 L1047.5 1011.15 L1048.5 1010.32 L1049.5 1009.49 L1050.5 1008.67 L1051.5 1007.84 L1052.5 1007.02 L1053.5 1006.2 L1054.5 1005.37 L1055.5 1004.55 L1056.5 1003.73 L1057.5 1002.91 L1058.5 1002.09 L1059.5 1001.27 L1060.5 1000.45 L1061.5 999.64 L1062.5 998.82 L1063.5 998.01 L1064.5 997.2 L1065.5 996.39 L1066.5 995.58 L1067.5 994.78 L1068.5 993.97 L1069.5 993.17 L1070.5 992.37 L1071.5 991.57 L1072.5 990.78 L1073.5 989.99 L1074.5 989.19 L1075.5 988.41 L1076.5 987.62 L1077.5 986.83 L1078.5 986.05 L1079.5 985.27 L1080.5 984.49 L1081.5 983.72 L1082.5 982.95 L1083.5 982.18 L1084.5 981.41 L1085.5 980.64 L1086.5 979.88 L1087.5 979.12 L1088.5 978.37 L1089.5 977.61 L1090.5 976.86 L1091.5 976.11 L1092.5 975.37 L1093.5 974.63 L1094.5 973.89 L1095.5 973.15 L1096.5 972.42 L1097.5 971.69 L1098.5 970.96 L1099.5 970.24 L1100.5 969.52 L1101.5 968.8 L1102.5 968.09 L1103.5 967.38 L1104.5 966.67 L1105.5 965.97 L1106.5 965.27 L1107.5 964.57 L1108.5 963.87 L1109.5 963.18 L1110.5 962.49 L1111.5 961.8 L1112.5 961.11 L1113.5 960.43 L1114.5 959.74 L1115.5 959.06 L1116.5 958.38 L1117.5 957.7 L1118.5 957.02 L1119.5 956.34 L1120.5 955.66 L1121.5 954.98 L1122.5 954.3 L1123.5 953.62 L1124.5 952.94 L1125.5 952.26 L1126.5 951.58 L1127.5 950.9 L1128.5 950.21 L1129.5 949.53 L1130.5 948.84 L1131.5 948.15 L1132.5 947.46 L1133.5 946.77 L1134.5 946.07 L1135.5 945.38 L1136.5 944.68 L1137.5 943.97 L1138.5 943.27 L1139.5 942.56 L1140.5 941.84 L1141.5 941.13 L1142.5 940.41 L1143.5 939.7 L1144.5 938.98 L1145.5 938.27 L1146.5 937.55 L1147.5 936.83 L1148.5 936.11 L1149.5 935.4 L1150.5 934.68 L1151.5 933.96 L1152.5 933.24 L1153.5 932.52 L1154.5 931.8 L1155.5 931.08 L1156.5 930.36 L1157.5 929.64 L1158.5 928.92 L1159.5 928.2 L1160.5 927.47 L1161.5 926.75 L1162.5 926.03 L1163.5 925.31 L1164.5 924.59 L1165.5 923.87 L1166.5 923.15 L1167.5 922.43 L1168.5 921.71 L1169.5 920.99 L1170.5 920.27 L1171.5 919.55 L1172.5 918.84 L1173.5 918.12 L1174.5 917.4 L1175.5 916.69 L1176.5 915.97 L1177.5 915.25 L1178.5 914.54 L1179.5 913.83 L1180.5 913.11 L1181.5 912.4 L1182.5 911.69 L1183.5 910.98 L1184.5 910.27 L1185.5 909.56 L1186.5 908.85 L1187.5 908.14 L1188.5 907.44 L1189.5 906.73 L1190.5 906.02 L1191.5 905.32 L1192.5 904.62 L1193.5 903.91 L1194.5 903.21 L1195.5 902.51 L1196.5 901.81 L1197.5 901.1 L1198.5 900.4 L1199.5 899.7 L1200.5 899 L1201.5 898.3 L1202.5 897.6 L1203.5 896.9 L1204.5 896.2 L1205.5 895.5 L1206.5 894.8 L1207.5 894.11 L1208.5 893.41 L1209.5 892.71 L1210.5 892.01 L1211.5 891.31 L1212.5 890.61 L1213.5 889.91 L1214.5 889.22 L1215.5 888.52 L1216.5 887.82 L1217.5 887.12 L1218.5 886.42 L1219.5 885.72 L1220.5 885.02 L1221.5 884.32 L1222.5 883.62 L1223.5 882.92 L1224.5 882.22 L1225.5 881.52 L1226.5 880.81 L1227.5 880.11 L1228.5 879.41 L1229.5 878.7 L1230.5 878 L1231.5 877.29 L1232.5 876.59 L1233.5 875.88 L1234.5 875.17 L1235.5 874.46 L1236.5 873.75 L1237.5 873.04 L1238.5 872.33 L1239.5 871.62 L1240.5 870.9 L1241.5 870.19 L1242.5 869.47 L1243.5 868.76 L1244.5 868.04 L1245.5 867.32 L1246.5 866.6 L1247.5 865.88 L1248.5 865.16 L1249.5 864.44 L1250.5 863.72 L1251.5 862.99 L1252.5 862.27 L1253.5 861.54 L1254.5 860.82 L1255.5 860.09 L1256.5 859.36 L1257.5 858.64 L1258.5 857.91 L1259.5 857.18 L1260.5 856.45 L1261.5 855.72 L1262.5 854.98 L1263.5 854.25 L1264.5 853.52 L1265.5 852.79 L1266.5 852.05 L1267.5 851.32 L1268.5 850.58 L1269.5 849.85 L1270.5 849.11 L1271.5 848.37 L1272.5 847.64 L1273.5 846.9 L1274.5 846.16 L1275.5 845.42 L1276.5 844.68 L1277.5 843.94 L1278.5 843.19 L1279.5 842.43 L1280.5 841.67 L1281.5 840.91 L1282.5 840.14 L1283.5 839.37 L1284.5 838.6 L1285.5 837.82 L1286.5 837.03 L1287.5 836.25 L1288.5 835.45 L1289.5 834.66 L1290.5 833.86 L1291.5 833.06 L1292.5 832.25 L1293.5 831.44 L1294.5 830.62 L1295.5 829.81 L1296.5 828.99 L1297.5 828.16 L1298.5 827.33 L1299.5 826.5 L1300.5 825.67 L1301.5 824.83 L1302.5 823.99 L1303.5 823.15 L1304.5 822.3 L1305.5 821.45 L1306.5 820.6 L1307.5 819.75 L1308.5 818.89 L1309.5 818.03 L1310.5 817.17 L1311.5 816.31 L1312.5 815.44 L1313.5 814.57 L1314.5 813.7 L1315.5 812.83 L1316.5 811.95 L1317.5 811.07 L1318.5 810.19 L1319.5 809.31 L1320.5 808.43 L1321.5 807.55 L1322.5 806.66 L1323.5 805.77 L1324.5 804.87 L1325.5 803.97 L1326.5 803.07 L1327.5 802.17 L1328.5 801.26 L1329.5 800.35 L1330.5 799.44 L1331.5 798.52 L1332.5 797.6 L1333.5 796.68 L1334.5 795.76 L1335.5 794.83 L1336.5 793.9 L1337.5 792.96 L1338.5 792.03 L1339.5 791.09 L1340.5 790.14 L1341.5 789.2 L1342.5 788.25 L1343.5 787.3 L1344.5 786.35 L1345.5 785.39 L1346.5 784.44 L1347.5 783.48 L1348.5 782.51 L1349.5 781.55 L1350.5 780.58 L1351.5 779.61 L1352.5 778.64 L1353.5 777.66 L1354.5 776.69 L1355.5 775.71 L1356.5 774.73 L1357.5 773.74 L1358.5 772.76 L1359.5 771.77 L1360.5 770.78 L1361.5 769.79 L1362.5 768.79 L1363.5 767.8 L1364.5 766.8 L1365.5 765.8 L1366.5 764.8 L1367.5 763.8 L1368.5 762.79 L1369.5 761.79 L1370.5 760.78 L1371.5 759.77 L1372.5 758.76 L1373.5 757.75 L1374.5 756.73 L1375.5 755.72 L1376.5 754.7 L1377.5 753.68 L1378.5 752.66 L1379.5 751.63 L1380.5 750.6 L1381.5 749.58 L1382.5 748.55 L1383.5 747.51 L1384.5 746.48 L1385.5 745.44 L1386.5 744.4 L1387.5 743.36 L1388.5 742.31 L1389.5 741.26 L1390.5 740.21 L1391.5 739.16 L1392.5 738.1 L1393.5 737.04 L1394.5 735.98 L1395.5 734.91 L1396.5 733.84 L1397.5 732.77 L1398.5 731.7 L1399.5 730.62 L1400.5 729.54 L1401.5 728.45 L1402.5 727.37 L1403.5 726.28 L1404.5 725.18 L1405.5 724.08 L1406.5 722.98 L1407.5 721.87 L1408.5 720.76 L1409.5 719.65 L1410.5 718.53 L1411.5 717.41 L1412.5 716.29 L1413.5 715.16 L1414.5 714.03 L1415.5 712.9 L1416.5 711.76 L1417.5 710.63 L1418.5 709.49 L1419.5 708.34 L1420.5 707.2 L1421.5 706.05 L1422.5 704.9 L1423.5 703.75 L1424.5 702.59 L1425.5 701.44 L1426.5 700.28 L1427.5 699.12 L1428.5 697.95 L1429.5 696.79 L1430.5 695.62 L1431.5 694.45 L1432.5 693.28 L1433.5 692.1 L1434.5 690.93 L1435.5 689.75 L1436.5 688.57 L1437.5 687.39 L1438.5 686.2 L1439.5 685.02 L1440.5 683.83 L1441.5 682.64 L1442.5 681.45 L1443.5 680.25 L1444.5 679.06 L1445.5 677.86 L1446.5 676.66 L1447.5 675.46 L1448.5 674.26 L1449.5 673.06 L1450.5 671.85 L1451.5 670.64 L1452.5 669.44 L1453.5 668.23 L1454.5 667.01 L1455.5 665.8 L1456.5 664.59 L1457.5 663.37 L1458.5 662.15 L1459.5 660.92 L1460.5 659.69 L1461.5 658.45 L1462.5 657.21 L1463.5 655.97 L1464.5 654.72 L1465.5 653.47 L1466.5 652.22 L1467.5 650.96 L1468.5 649.7 L1469.5 648.44 L1470.5 647.17 L1471.5 645.91 L1472.5 644.64 L1473.5 643.37 L1474.5 642.1 L1475.5 640.83 L1476.5 639.56 L1477.5 638.28 L1478.5 637.01 L1479.5 635.74 L1480.5 634.47 L1481.5 633.2 L1482.5 631.93 L1483.5 630.66 L1484.5 629.39 L1485.5 628.13 L1486.5 626.86 L1487.5 625.6 L1488.5 624.35 L1489.5 623.09 L1490.5 621.84 L1491.5 620.59 L1492.5 619.34 L1493.5 618.1 L1494.5 616.86 L1495.5 615.63 L1496.5 614.4 L1497.5 613.18 L1498.5 611.96 L1499.5 610.75 L1500.5 609.54 L1501.5 608.34 L1502.5 607.14 L1503.5 605.95 L1504.5 604.77 L1505.5 603.59 L1506.5 602.42 L1507.5 601.25 L1508.5 600.08 L1509.5 598.92 L1510.5 597.76 L1511.5 596.61 L1512.5 595.46 L1513.5 594.31 L1514.5 593.16 L1515.5 592.02 L1516.5 590.88 L1517.5 589.74 L1518.5 588.6 L1519.5 587.47 L1520.5 586.33 L1521.5 585.2 L1522.5 584.06 L1523.5 582.93 L1524.5 581.8 L1525.5 580.66 L1526.5 579.53 L1527.5 578.39 L1528.5 577.25 L1529.5 576.11 L1530.5 574.97 L1531.5 573.83 L1532.5 572.69 L1533.5 571.54 L1534.5 570.39 L1535.5 569.24 L1536.5 568.08 L1537.5 566.92 L1538.5 565.75 L1539.5 564.59 L1540.5 563.41 L1541.5 562.23 L1542.5 561.04 L1543.5 559.84 L1544.5 558.64 L1545.5 557.43 L1546.5 556.21 L1547.5 554.99 L1548.5 553.76 L1549.5 552.53 L1550.5 551.3 L1551.5 550.06 L1552.5 548.82 L1553.5 547.58 L1554.5 546.34 L1555.5 545.1 L1556.5 543.86 L1557.5 542.62 L1558.5 541.37 L1559.5 540.14 L1560.5 538.9 L1561.5 537.67 L1562.5 536.44 L1563.5 535.21 L1564.5 533.99 L1565.5 532.77 L1566.5 531.56 L1567.5 530.36 L1568.5 529.17 L1569.5 527.98 L1570.5 526.8 L1571.5 525.62 L1572.5 524.46 L1573.5 523.31 L1574.5 522.17 L1575.5 521.04 L1576.5 519.92 L1577.5 518.8 L1578.5 517.69 L1579.5 516.59 L1580.5 515.48 L1581.5 514.39 L1582.5 513.3 L1583.5 512.21 L1584.5 511.13 L1585.5 510.05 L1586.5 508.97 L1587.5 507.9 L1588.5 506.83 L1589.5 505.77 L1590.5 504.71 L1591.5 503.65 L1592.5 502.59 L1593.5 501.54 L1594.5 500.49 L1595.5 499.45 L1596.5 498.41 L1597.5 497.36 L1598.5 496.33 L1599.5 495.29 L1600.5 494.26 L1601.5 493.22 L1602.5 492.19 L1603.5 491.17 L1604.5 490.14 L1605.5 489.11 L1606.5 488.09 L1607.5 487.07 L1608.5 486.04 L1609.5 485.02 L1610.5 484 L1611.5 482.98 L1612.5 481.96 L1613.5 480.94 L1614.5 479.93 L1615.5 478.91 L1616.5 477.89 L1617.5 476.87 L1618.5 475.85 L1619.5 474.83 L1620.5 473.81 L1621.5 472.79 L1622.5 471.77 L1623.5 470.75 L1624.5 469.72 L1625.5 468.7 L1626.5 467.67 L1627.5 466.65 L1628.5 465.62 L1629.5 464.6 L1630.5 463.57 L1631.5 462.54 L1632.5 461.52 L1633.5 460.49 L1634.5 459.47 L1635.5 458.44 L1636.5 457.42 L1637.5 456.4 L1638.5 455.38 L1639.5 454.36 L1640.5 453.34 L1641.5 452.32 L1642.5 451.31 L1643.5 450.29 L1644.5 449.28 L1645.5 448.27 L1646.5 447.26 L1647.5 446.26 L1648.5 445.25 L1649.5 444.25 L1650.5 443.26 L1651.5 442.26 L1652.5 441.27 L1653.5 440.28 L1654.5 439.3 L1655.5 438.32 L1656.5 437.34 L1657.5 436.37 L1658.5 435.4 L1659.5 434.43 L1660.5 433.47 L1661.5 432.52 L1662.5 431.57 L1663.5 430.62 L1664.5 429.68 L1665.5 428.74 L1666.5 427.81 L1667.5 426.88 L1668.5 425.95 L1669.5 425.03 L1670.5 424.12 L1671.5 423.2 L1672.5 422.29 L1673.5 421.38 L1674.5 420.48 L1675.5 419.57 L1676.5 418.68 L1677.5 417.78 L1678.5 416.88 L1679.5 415.99 L1680.5 415.1 L1681.5 414.21 L1682.5 413.33 L1683.5 412.44 L1684.5 411.56 L1685.5 410.68 L1686.5 409.8 L1687.5 408.93 L1688.5 408.05 L1689.5 407.18 L1690.5 406.31 L1691.5 405.43 L1692.5 404.56 L1693.5 403.69 L1694.5 402.83 L1695.5 401.96 L1696.5 401.09 L1697.5 400.22 L1698.5 399.36 L1699.5 398.49 L1700.5 397.63 L1701.5 396.76 L1702.5 395.89 L1703.5 395.03 L1704.5 394.16 L1705.5 393.3 L1706.5 392.43 L1707.5 391.56 L1708.5 390.69 L1709.5 389.83 L1710.5 388.96 L1711.5 388.09 L1712.5 387.22 L1713.5 386.35 L1714.5 385.49 L1715.5 384.62 L1716.5 383.76 L1717.5 382.9 L1718.5 382.05 L1719.5 381.19 L1720.5 380.34 L1721.5 379.49 L1722.5 378.64 L1723.5 377.79 L1724.5 376.95 L1725.5 376.1 L1726.5 375.26 L1727.5 374.41 L1728.5 373.57 L1729.5 372.73 L1730.5 371.89 L1731.5 371.05 L1732.5 370.21 L1733.5 369.37 L1734.5 368.53 L1735.5 367.69 L1736.5 366.85 L1737.5 366.01 L1738.5 365.17 L1739.5 364.33 L1740.5 363.48 L1741.5 362.64 L1742.5 361.8 L1743.5 360.95 L1744.5 360.11 L1745.5 359.26 L1746.5 358.42 L1747.5 357.57 L1748.5 356.72 L1749.5 355.87 L1750.5 355.01 L1751.5 354.16 L1752.5 353.3 L1753.5 352.44 L1754.5 351.58 L1755.5 350.71 L1756.5 349.85 L1757.5 348.98 L1758.5 348.1 L1759.5 347.21 L1760.5 346.32 L1761.5 345.41 L1762.5 344.5 L1763.5 343.58 L1764.5 342.66 L1765.5 341.72 L1766.5 340.77 L1767.5 339.82 L1768.5 338.86 L1769.5 337.89 L1770.5 336.91 L1771.5 335.92 L1772.5 334.93 L1773.5 333.93 L1774.5 332.92 L1775.5 331.9 L1776.5 330.87 L1777.5 329.84 L1778.5 328.79 L1779.5 327.74 L1780.5 326.68 L1781.5 325.62 L1782.5 324.54 L1783.5 323.46 L1784.5 322.36 L1785.5 321.27 L1786.5 320.16 L1787.5 319.04 L1788.5 317.92 L1789.5 316.79 L1790.5 315.65 L1791.5 314.5 L1792.5 313.35 L1793.5 312.19 L1794.5 311.02 L1795.5 309.84 L1796.5 308.65 L1797.5 307.46 L1798.5 306.26 L1799.5 305.05 L1800.5 303.83 L1801.5 302.61 L1802.5 301.38 L1803.5 300.14 L1804.5 298.89 L1805.5 297.64 L1806.5 296.39 L1807.5 295.13 L1808.5 293.86 L1809.5 292.59 L1810.5 291.31 L1811.5 290.02 L1812.5 288.73 L1813.5 287.43 L1814.5 286.13 L1815.5 284.82 L1816.5 283.5 L1817.5 282.18 L1818.5 280.85 L1819.5 279.51 L1820.5 278.17 L1821.5 276.82 L1822.5 275.46 L1823.5 274.1 L1824.5 272.73 L1825.5 271.36 L1826.5 269.97 L1827.5 268.58 L1828.5 267.19 L1829.5 265.78 L1830.5 264.37 L1831.5 262.95 L1832.5 261.53 L1833.5 260.1 L1834.5 258.66 L1835.5 257.21 L1836.5 255.76 L1837.5 254.3 L1838.5 252.83 L1839.5 251.35 L1840.5 249.87 L1841.5 248.38 L1842.5 246.88 L1843.5 245.37 L1844.5 243.85 L1845.5 242.33 L1846.5 240.8 L1847.5 239.26 L1848.5 237.72 L1849.5 236.17 L1850.5 234.63 L1851.5 233.08 L1852.5 231.54 L1853.5 229.99 L1854.5 228.45 L1855.5 226.9 L1856.5 225.36 L1857.5 223.81 L1858.5 222.26 L1859.5 220.72 L1860.5 219.17 L1861.5 217.63 L1862.5 216.08 L1863.5 214.53 L1864.5 212.99 L1865.5 211.44 L1866.5 209.89 L1867.5 208.34 L1868.5 206.8 L1869.5 205.25 L1870.5 203.7 L1871.5 202.15 L1872.5 200.61 L1873.5 199.06 L1874.5 197.51 L1875.5 195.96 L1876.5 194.42 L1877.5 192.87 L1878.5 191.32 L1879.5 189.77 L1880.5 188.22 L1881.5 186.67 L1882.5 185.12 L1883.5 183.57 L1884.5 182.03 L1885.5 180.48 L1886.5 178.93 L1887.5 177.38 L1888.5 175.83 L1889.5 174.28 L1890.5 172.73 L1891.5 171.18 L1892.5 169.63 L1893.5 168.08 L1894.5 166.53 L1895.5 164.98 L1896.5 163.42 L1897.5 161.87 L1898.5 160.32 L1899.5 158.76 L1900.5 157.21 L1901.5 155.65 L1902.5 154.1 L1903.5 152.54 L1904.5 150.99 L1905.5 149.43 L1906.5 147.88 L1907.5 146.32 L1908.5 144.77 L1909.5 143.22 L1910.5 141.66 L1911.5 140.11 L1912.5 138.56 L1913.5 137.01 L1914.5 135.46 L1915.5 133.91 L1916.5 132.37 L1917.5 130.86 L1918.5 129.37 L1919.5 127.91 L1920.5 126.47 L1921.5 125.05 L1922.5 123.65 L1923.5 122.27 L1924.5 120.91 L1925.5 119.57 L1926.5 118.24 L1927.5 116.93 L1928.5 115.63 L1929.5 114.35 L1930.5 113.07 L1931.5 111.8 L1932.5 110.54 L1933.5 109.29 L1934.5 108.05 L1935.5 106.81 L1936.5 105.57 L1937.5 104.34 L1938.1 103.6 L1939.1 102.64 L1940.1 101.69 L1941.1 100.73 L1942.1 99.78 L1943.1 98.82 L1944.1 97.86 L1945.1 96.91 L1946.1 95.95 L1947.1 95 L1948.1 94.04 L1949.1 93.09 L1950.1 92.13 L1951.1 91.17 L1951.7 90.6 L1952.1 90.36 L1953.1 89.77 L1954.1 89.17 L1955.1 88.58 L1956.1 87.98 L1957.1 87.38 L1958.1 86.79 L1959.1 86.19 L1960.1 85.6 L1961.1 85 L1962.1 84.41 L1963.1 83.81 L1964.1 83.21 L1965.1 82.62 L1965.3 82.5 L1966.1 82.5 L1967.1 82.5 L1968.1 82.5 L1969.1 82.5 L1970.1 82.5 L1971.1 82.5 L1972.1 82.5 L1973.1 82.5 L1974.1 82.5 L1975.1 82.5 L1976.1 82.5 L1977.1 82.5 L1978.1 82.5 L1978.9 82.5 L1979.1 82.6 L1980.1 83.13 L1981.1 83.65 L1982.1 84.17 L1983.1 84.69 L1984.1 85.22 L1985.1 85.74 L1986.1 86.26 L1987.1 86.78 L1987.9 87.2 L1988.1 87.45 L1989.1 88.69 L1990.1 89.93 L1991.1 91.17 L1992.1 92.42 L1993.1 93.66 L1994.1 94.9 L1995.1 96.14 L1996.1 97.38 L1997 98.5 L1997.1 98.7 L1998.1 100.71 L1999.1 102.72 L2000.1 104.73 L2001.1 106.75 L2002.1 108.76 L2003.1 110.77 L2004.1 112.78 L2005.1 114.79 L2006 116.6 L2006.1 116.92 L2007.1 120.15 L2008.1 123.38 L2009.1 126.62 L2010.1 129.85 L2011.1 133.08 L2012.1 136.31 L2013.1 139.54 L2014.1 142.77 L2015.1 146 L2016.1 150.27 L2017.1 154.54 L2018.1 158.81 L2019.1 163.08 L2020.1 167.35 L2021.1 171.62 L2022.1 175.88 L2022.9 179.3" stroke="#f40000" stroke-width="3.2"/>
<path d="M250.5 1600.3 L251.5 1599.89 L252.5 1599.49 L253.5 1599.12 L254.5 1598.76 L255.5 1598.44 L256.5 1598.12 L257.5 1597.81 L258.5 1597.49 L259.5 1597.18 L260.5 1596.87 L261.5 1596.56 L262.5 1596.25 L263.5 1595.94 L264.5 1595.64 L265.5 1595.33 L266.5 1595.03 L267.5 1594.72 L268.5 1594.42 L269.5 1594.11 L270.5 1593.81 L271.5 1593.5 L272.5 1593.19 L273.5 1592.89 L274.5 1592.59 L275.5 1592.28 L276.5 1591.98 L277.5 1591.69 L278.5 1591.4 L279.5 1591.11 L280.5 1590.82 L281.5 1590.54 L282.5 1590.27 L283.5 1590.01 L284.5 1589.76 L285.5 1589.51 L286.5 1589.27 L287.5 1589.02 L288.5 1588.78 L289.5 1588.54 L290.5 1588.3 L291.5 1588.05 L292.5 1587.81 L293.5 1587.56 L294.5 1587.31 L295.5 1587.07 L296.5 1586.84 L297.5 1586.61 L298.5 1586.39 L299.5 1586.18 L300.5 1585.98 L301.5 1585.78 L302.5 1585.59 L303.5 1585.41 L304.5 1585.22 L305.5 1585.04 L306.5 1584.86 L307.5 1584.68 L308.5 1584.5 L309.5 1584.33 L310.5 1584.16 L311.5 1583.98 L312.5 1583.81 L313.5 1583.64 L314.5 1583.46 L315.5 1583.29 L316.5 1583.11 L317.5 1582.94 L318.5 1582.76 L319.5 1582.58 L320.5 1582.41 L321.5 1582.23 L322.5 1582.05 L323.5 1581.88 L324.5 1581.7 L325.5 1581.53 L326.5 1581.36 L327.5 1581.18 L328.5 1581.01 L329.5 1580.84 L330.5 1580.67 L331.5 1580.5 L332.5 1580.34 L333.5 1580.17 L334.5 1580.01 L335.5 1579.85 L336.5 1579.69 L337.5 1579.54 L338.5 1579.39 L339.5 1579.26 L340.5 1579.12 L341.5 1578.99 L342.5 1578.87 L343.5 1578.75 L344.5 1578.63 L345.5 1578.52 L346.5 1578.4 L347.5 1578.29 L348.5 1578.18 L349.5 1578.07 L350.5 1577.96 L351.5 1577.85 L352.5 1577.74 L353.5 1577.62 L354.5 1577.5 L355.5 1577.38 L356.5 1577.26 L357.5 1577.13 L358.5 1577 L359.5 1576.86 L360.5 1576.72 L361.5 1576.58 L362.5 1576.43 L363.5 1576.28 L364.5 1576.13 L365.5 1575.97 L366.5 1575.82 L367.5 1575.66 L368.5 1575.5 L369.5 1575.35 L370.5 1575.19 L371.5 1575.03 L372.5 1574.87 L373.5 1574.72 L374.5 1574.56 L375.5 1574.41 L376.5 1574.26 L377.5 1574.11 L378.5 1573.96 L379.5 1573.82 L380.5 1573.68" stroke="#00aa00" stroke-width="3.2"/><path d="M380.5 1573.68 L381.5 1573.55 L382.5 1573.43 L383.5 1573.32 L384.5 1573.22 L385.5 1573.13 L386.5 1573.05 L387.5 1572.97 L388.5 1572.9 L389.5 1572.83 L390.5 1572.77 L391.5 1572.7 L392.5 1572.63 L393.5 1572.56 L394.5 1572.49 L395.5 1572.4 L396.5 1572.31 L397.5 1572.21 L398.5 1572.1 L399.5 1571.97 L400.5 1571.83 L401.5 1571.69 L402.5 1571.54" stroke="#00aa00" stroke-width="3"/><path d="M402.5 1571.54 L403.5 1571.4 L404.5 1571.26 L405.5 1571.11 L406.5 1570.97 L407.5 1570.82 L408.5 1570.67 L409.5 1570.53 L410.5 1570.38 L411.5 1570.23 L412.5 1570.08 L413.5 1569.93 L414.5 1569.77 L415.5 1569.62 L416.5 1569.47 L417.5 1569.31 L418.5 1569.16 L419.5 1569 L420.5 1568.85 L421.5 1568.69 L422.5 1568.53 L423.5 1568.37 L424.5 1568.21 L425.5 1568.05 L426.5 1567.89 L427.5 1567.73 L428.5 1567.56 L429.5 1567.4 L430.5 1567.23 L431.5 1567.07 L432.5 1566.9 L433.5 1566.73 L434.5 1566.57 L435.5 1566.4 L436.5 1566.23 L437.5 1566.05 L438.5 1565.88 L439.5 1565.71 L440.5 1565.54 L441.5 1565.36 L442.5 1565.18 L443.5 1565.01 L444.5 1564.83 L445.5 1564.65 L446.5 1564.47 L447.5 1564.29 L448.5 1564.11 L449.5 1563.93 L450.5 1563.74 L451.5 1563.56 L452.5 1563.37 L453.5 1563.18 L454.5 1563 L455.5 1562.81 L456.5 1562.62 L457.5 1562.43 L458.5 1562.24 L459.5 1562.04 L460.5 1561.85 L461.5 1561.65 L462.5 1561.46 L463.5 1561.26 L464.5 1561.07 L465.5 1560.87 L466.5 1560.67 L467.5 1560.48 L468.5 1560.28 L469.5 1560.08 L470.5 1559.88 L471.5 1559.69 L472.5 1559.49 L473.5 1559.29 L474.5 1559.1 L475.5 1558.9 L476.5 1558.7 L477.5 1558.51 L478.5 1558.31 L479.5 1558.11 L480.5 1557.91 L481.5 1557.72 L482.5 1557.52 L483.5 1557.32 L484.5 1557.13 L485.5 1556.93 L486.5 1556.73 L487.5 1556.53 L488.5 1556.34 L489.5 1556.14 L490.5 1555.94 L491.5 1555.74 L492.5 1555.55 L493.5 1555.35 L494.5 1555.15 L495.5 1554.95 L496.5 1554.76 L497.5 1554.56 L498.5 1554.36 L499.5 1554.16 L500.5 1553.97 L501.5 1553.77 L502.5 1553.57 L503.5 1553.37 L504.5 1553.18 L505.5 1552.98 L506.5 1552.78 L507.5 1552.58 L508.5 1552.38 L509.5 1552.19 L510.5 1551.99 L511.5 1551.79 L512.5 1551.59 L513.5 1551.39 L514.5 1551.19 L515.5 1551 L516.5 1550.8 L517.5 1550.6 L518.5 1550.4 L519.5 1550.2 L520.5 1550 L521.5 1549.81 L522.5 1549.61 L523.5 1549.41 L524.5 1549.21 L525.5 1549.01 L526.5 1548.81 L527.5 1548.61 L528.5 1548.41 L529.5 1548.22 L530.5 1548.02 L531.5 1547.82 L532.5 1547.62 L533.5 1547.42 L534.5 1547.22 L535.5 1547.02 L536.5 1546.82 L537.5 1546.62 L538.5 1546.42 L539.5 1546.22 L540.5 1546.02 L541.5 1545.82 L542.5 1545.62 L543.5 1545.42 L544.5 1545.22 L545.5 1545.02 L546.5 1544.82 L547.5 1544.62 L548.5 1544.42 L549.5 1544.21 L550.5 1544.01 L551.5 1543.81 L552.5 1543.61 L553.5 1543.41 L554.5 1543.21 L555.5 1543.01 L556.5 1542.8 L557.5 1542.6 L558.5 1542.4 L559.5 1542.2 L560.5 1542 L561.5 1541.79 L562.5 1541.59 L563.5 1541.39 L564.5 1541.19 L565.5 1540.99 L566.5 1540.79 L567.5 1540.58 L568.5 1540.38 L569.5 1540.18 L570.5 1539.98 L571.5 1539.78 L572.5 1539.58 L573.5 1539.37 L574.5 1539.17 L575.5 1538.97 L576.5 1538.77 L577.5 1538.57 L578.5 1538.37 L579.5 1538.17 L580.5 1537.97 L581.5 1537.77 L582.5 1537.57 L583.5 1537.37 L584.5 1537.17 L585.5 1536.97 L586.5 1536.77 L587.5 1536.57 L588.5 1536.37 L589.5 1536.17 L590.5 1535.97 L591.5 1535.77 L592.5 1535.57 L593.5 1535.37 L594.5 1535.17 L595.5 1534.97 L596.5 1534.78 L597.5 1534.58 L598.5 1534.38 L599.5 1534.18 L600.5 1533.99 L601.5 1533.79 L602.5 1533.59 L603.5 1533.4 L604.5 1533.2 L605.5 1533.01 L606.5 1532.81 L607.5 1532.62 L608.5 1532.44 L609.5 1532.25 L610.5 1532.07 L611.5 1531.89 L612.5 1531.71 L613.5 1531.54 L614.5 1531.36 L615.5 1531.19 L616.5 1531.01 L617.5 1530.84 L618.5 1530.67 L619.5 1530.5 L620.5 1530.34 L621.5 1530.17 L622.5 1530 L623.5 1529.83 L624.5 1529.67 L625.5 1529.5 L626.5 1529.33 L627.5 1529.17 L628.5 1529 L629.5 1528.83 L630.5 1528.66 L631.5 1528.49 L632.5 1528.32 L633.5 1528.15 L634.5 1527.98 L635.5 1527.8 L636.5 1527.63 L637.5 1527.45 L638.5 1527.27 L639.5 1527.09 L640.5 1526.91 L641.5 1526.73 L642.5 1526.54 L643.5 1526.36 L644.5 1526.18 L645.5 1525.99 L646.5 1525.81 L647.5 1525.62 L648.5 1525.44 L649.5 1525.25 L650.5 1525.07 L651.5 1524.88 L652.5 1524.7 L653.5 1524.51 L654.5 1524.33 L655.5 1524.14 L656.5 1523.96 L657.5 1523.77 L658.5 1523.58 L659.5 1523.4 L660.5 1523.21 L661.5 1523.02 L662.5 1522.84 L663.5 1522.65 L664.5 1522.46 L665.5 1522.28 L666.5 1522.09 L667.5 1521.9 L668.5 1521.71 L669.5 1521.53 L670.5 1521.34 L671.5 1521.15 L672.5 1520.96 L673.5 1520.77 L674.5 1520.59 L675.5 1520.4 L676.5 1520.21 L677.5 1520.02 L678.5 1519.83 L679.5 1519.65 L680.5 1519.46 L681.5 1519.27 L682.5 1519.08 L683.5 1518.89 L684.5 1518.7 L685.5 1518.51 L686.5 1518.32 L687.5 1518.14 L688.5 1517.95 L689.5 1517.76 L690.5 1517.57 L691.5 1517.38 L692.5 1517.19 L693.5 1517 L694.5 1516.81 L695.5 1516.62 L696.5 1516.43 L697.5 1516.25 L698.5 1516.06 L699.5 1515.87 L700.5 1515.68 L701.5 1515.49 L702.5 1515.3 L703.5 1515.11 L704.5 1514.92 L705.5 1514.74 L706.5 1514.55 L707.5 1514.36 L708.5 1514.17 L709.5 1513.98 L710.5 1513.79 L711.5 1513.6 L712.5 1513.42 L713.5 1513.23 L714.5 1513.04 L715.5 1512.85 L716.5 1512.66 L717.5 1512.47 L718.5 1512.29 L719.5 1512.1 L720.5 1511.91 L721.5 1511.72 L722.5 1511.54 L723.5 1511.35 L724.5 1511.16 L725.5 1510.97 L726.5 1510.79 L727.5 1510.6 L728.5 1510.41 L729.5 1510.23 L730.5 1510.04 L731.5 1509.86 L732.5 1509.67 L733.5 1509.48 L734.5 1509.3 L735.5 1509.11 L736.5 1508.93 L737.5 1508.74 L738.5 1508.56 L739.5 1508.37 L740.5 1508.19 L741.5 1508 L742.5 1507.82 L743.5 1507.63 L744.5 1507.45 L745.5 1507.27 L746.5 1507.08 L747.5 1506.9 L748.5 1506.72 L749.5 1506.54 L750.5 1506.36 L751.5 1506.18 L752.5 1506 L753.5 1505.83 L754.5 1505.65 L755.5 1505.48 L756.5 1505.31 L757.5 1505.14 L758.5 1504.97 L759.5 1504.8 L760.5 1504.63 L761.5 1504.46 L762.5 1504.29 L763.5 1504.12 L764.5 1503.96 L765.5 1503.79 L766.5 1503.63 L767.5 1503.46 L768.5 1503.3 L769.5 1503.13 L770.5 1502.97 L771.5 1502.8 L772.5 1502.64 L773.5 1502.48 L774.5 1502.31 L775.5 1502.15 L776.5 1501.99 L777.5 1501.82 L778.5 1501.66 L779.5 1501.5 L780.5 1501.33 L781.5 1501.17 L782.5 1501 L783.5 1500.84 L784.5 1500.68 L785.5 1500.51 L786.5 1500.34 L787.5 1500.18 L788.5 1500.01 L789.5 1499.84 L790.5 1499.68 L791.5 1499.51 L792.5 1499.34 L793.5 1499.17 L794.5 1499 L795.5 1498.83 L796.5 1498.65 L797.5 1498.48 L798.5 1498.31 L799.5 1498.13 L800.5 1497.95 L801.5 1497.78 L802.5 1497.6 L803.5 1497.42 L804.5 1497.24 L805.5 1497.05 L806.5 1496.87 L807.5 1496.68 L808.5 1496.5 L809.5 1496.31 L810.5 1496.12 L811.5 1495.93 L812.5 1495.73 L813.5 1495.54 L814.5 1495.34 L815.5 1495.14 L816.5 1494.94 L817.5 1494.74 L818.5 1494.54 L819.5 1494.33 L820.5 1494.13 L821.5 1493.93 L822.5 1493.72 L823.5 1493.52 L824.5 1493.31 L825.5 1493.11 L826.5 1492.9 L827.5 1492.7 L828.5 1492.49 L829.5 1492.29 L830.5 1492.08 L831.5 1491.88 L832.5 1491.67 L833.5 1491.46 L834.5 1491.26 L835.5 1491.05 L836.5 1490.85 L837.5 1490.64 L838.5 1490.43 L839.5 1490.23 L840.5 1490.02 L841.5 1489.81 L842.5 1489.61 L843.5 1489.4 L844.5 1489.19 L845.5 1488.98 L846.5 1488.78 L847.5 1488.57 L848.5 1488.36 L849.5 1488.15 L850.5 1487.95 L851.5 1487.74 L852.5 1487.53 L853.5 1487.32 L854.5 1487.11 L855.5 1486.91 L856.5 1486.7 L857.5 1486.49 L858.5 1486.28 L859.5 1486.07 L860.5 1485.86 L861.5 1485.66 L862.5 1485.45 L863.5 1485.24 L864.5 1485.03 L865.5 1484.82 L866.5 1484.61 L867.5 1484.4 L868.5 1484.2 L869.5 1483.99 L870.5 1483.78 L871.5 1483.57 L872.5 1483.36 L873.5 1483.15 L874.5 1482.94 L875.5 1482.73 L876.5 1482.53 L877.5 1482.32 L878.5 1482.11 L879.5 1481.9 L880.5 1481.69 L881.5 1481.48 L882.5 1481.27 L883.5 1481.06 L884.5 1480.86 L885.5 1480.65 L886.5 1480.44 L887.5 1480.23 L888.5 1480.02 L889.5 1479.81 L890.5 1479.6 L891.5 1479.39 L892.5 1479.19 L893.5 1478.98 L894.5 1478.77 L895.5 1478.56 L896.5 1478.35 L897.5 1478.14 L898.5 1477.93 L899.5 1477.72 L900.5 1477.52 L901.5 1477.31 L902.5 1477.1 L903.5 1476.89 L904.5 1476.68 L905.5 1476.47 L906.5 1476.26 L907.5 1476.05 L908.5 1475.84 L909.5 1475.63 L910.5 1475.42 L911.5 1475.21 L912.5 1475.01 L913.5 1474.8 L914.5 1474.59 L915.5 1474.38 L916.5 1474.17 L917.5 1473.96 L918.5 1473.75 L919.5 1473.54 L920.5 1473.33 L921.5 1473.12 L922.5 1472.91 L923.5 1472.7 L924.5 1472.49 L925.5 1472.28 L926.5 1472.08 L927.5 1471.87 L928.5 1471.66 L929.5 1471.45 L930.5 1471.24 L931.5 1471.03 L932.5 1470.82 L933.5 1470.61 L934.5 1470.4 L935.5 1470.19 L936.5 1469.98 L937.5 1469.77 L938.5 1469.56 L939.5 1469.36 L940.5 1469.15 L941.5 1468.94 L942.5 1468.73 L943.5 1468.52 L944.5 1468.31 L945.5 1468.1 L946.5 1467.89 L947.5 1467.68 L948.5 1467.47 L949.5 1467.27 L950.5 1467.06 L951.5 1466.85 L952.5 1466.64 L953.5 1466.43 L954.5 1466.22 L955.5 1466.01 L956.5 1465.8 L957.5 1465.6 L958.5 1465.39 L959.5 1465.18 L960.5 1464.97 L961.5 1464.76 L962.5 1464.56 L963.5 1464.35 L964.5 1464.15 L965.5 1463.94 L966.5 1463.74 L967.5 1463.54 L968.5 1463.34 L969.5 1463.13 L970.5 1462.93 L971.5 1462.73 L972.5 1462.53 L973.5 1462.34 L974.5 1462.14 L975.5 1461.94 L976.5 1461.74 L977.5 1461.55 L978.5 1461.35 L979.5 1461.15 L980.5 1460.96 L981.5 1460.76 L982.5 1460.57 L983.5 1460.38 L984.5 1460.18 L985.5 1459.99 L986.5 1459.79 L987.5 1459.6 L988.5 1459.41 L989.5 1459.22 L990.5 1459.03 L991.5 1458.83 L992.5 1458.64 L993.5 1458.45 L994.5 1458.26 L995.5 1458.07 L996.5 1457.88 L997.5 1457.69 L998.5 1457.5 L999.5 1457.31 L1000.5 1457.11 L1001.5 1456.92 L1002.5 1456.73 L1003.5 1456.54 L1004.5 1456.35 L1005.5 1456.16 L1006.5 1455.97 L1007.5 1455.78 L1008.5 1455.59 L1009.5 1455.4 L1010.5 1455.21 L1011.5 1455.01 L1012.5 1454.82 L1013.5 1454.63 L1014.5 1454.44 L1015.5 1454.25 L1016.5 1454.05 L1017.5 1453.86 L1018.5 1453.67 L1019.5 1453.47 L1020.5 1453.28 L1021.5 1453.09 L1022.5 1452.89 L1023.5 1452.7 L1024.5 1452.5 L1025.5 1452.31 L1026.5 1452.11 L1027.5 1451.91 L1028.5 1451.71 L1029.5 1451.52 L1030.5 1451.32 L1031.5 1451.12 L1032.5 1450.92 L1033.5 1450.72 L1034.5 1450.52 L1035.5 1450.32 L1036.5 1450.11 L1037.5 1449.91 L1038.5 1449.71 L1039.5 1449.5 L1040.5 1449.3 L1041.5 1449.09 L1042.5 1448.88 L1043.5 1448.67 L1044.5 1448.45 L1045.5 1448.23 L1046.5 1448.01 L1047.5 1447.79 L1048.5 1447.57 L1049.5 1447.34 L1050.5 1447.11 L1051.5 1446.88 L1052.5 1446.65 L1053.5 1446.42 L1054.5 1446.19 L1055.5 1445.95 L1056.5 1445.71 L1057.5 1445.47 L1058.5 1445.24 L1059.5 1444.99 L1060.5 1444.75 L1061.5 1444.51 L1062.5 1444.27 L1063.5 1444.03 L1064.5 1443.78 L1065.5 1443.54 L1066.5 1443.29 L1067.5 1443.05 L1068.5 1442.8 L1069.5 1442.56 L1070.5 1442.31 L1071.5 1442.07 L1072.5 1441.82 L1073.5 1441.58 L1074.5 1441.33 L1075.5 1441.09 L1076.5 1440.85 L1077.5 1440.61 L1078.5 1440.36 L1079.5 1440.12 L1080.5 1439.88 L1081.5 1439.65 L1082.5 1439.41 L1083.5 1439.17 L1084.5 1438.94 L1085.5 1438.7 L1086.5 1438.47 L1087.5 1438.24 L1088.5 1438.01 L1089.5 1437.79 L1090.5 1437.56 L1091.5 1437.34 L1092.5 1437.12 L1093.5 1436.9 L1094.5 1436.68 L1095.5 1436.47 L1096.5 1436.26 L1097.5 1436.05 L1098.5 1435.84 L1099.5 1435.64 L1100.5 1435.44 L1101.5 1435.24 L1102.5 1435.04 L1103.5 1434.85 L1104.5 1434.65 L1105.5 1434.45 L1106.5 1434.25 L1107.5 1434.06 L1108.5 1433.86 L1109.5 1433.66 L1110.5 1433.47 L1111.5 1433.27 L1112.5 1433.08 L1113.5 1432.88 L1114.5 1432.69 L1115.5 1432.49 L1116.5 1432.3 L1117.5 1432.1 L1118.5 1431.91 L1119.5 1431.72 L1120.5 1431.52 L1121.5 1431.33 L1122.5 1431.14 L1123.5 1430.94 L1124.5 1430.75 L1125.5 1430.56 L1126.5 1430.36 L1127.5 1430.17 L1128.5 1429.98 L1129.5 1429.79 L1130.5 1429.59 L1131.5 1429.4 L1132.5 1429.21 L1133.5 1429.02 L1134.5 1428.82 L1135.5 1428.63 L1136.5 1428.44 L1137.5 1428.25 L1138.5 1428.05 L1139.5 1427.86 L1140.5 1427.67 L1141.5 1427.48 L1142.5 1427.28 L1143.5 1427.09 L1144.5 1426.9 L1145.5 1426.71 L1146.5 1426.51 L1147.5 1426.32 L1148.5 1426.13 L1149.5 1425.93 L1150.5 1425.74 L1151.5 1425.55 L1152.5 1425.35 L1153.5 1425.16 L1154.5 1424.97 L1155.5 1424.77 L1156.5 1424.58 L1157.5 1424.38 L1158.5 1424.19 L1159.5 1423.99 L1160.5 1423.8 L1161.5 1423.6 L1162.5 1423.41 L1163.5 1423.21 L1164.5 1423.02 L1165.5 1422.82 L1166.5 1422.63 L1167.5 1422.43 L1168.5 1422.23 L1169.5 1422.03 L1170.5 1421.84 L1171.5 1421.64 L1172.5 1421.44 L1173.5 1421.24 L1174.5 1421.05 L1175.5 1420.85 L1176.5 1420.65 L1177.5 1420.45 L1178.5 1420.25 L1179.5 1420.05 L1180.5 1419.85 L1181.5 1419.66 L1182.5 1419.46 L1183.5 1419.26 L1184.5 1419.06 L1185.5 1418.86 L1186.5 1418.66 L1187.5 1418.46 L1188.5 1418.26 L1189.5 1418.06 L1190.5 1417.87 L1191.5 1417.67 L1192.5 1417.47 L1193.5 1417.27 L1194.5 1417.07 L1195.5 1416.87 L1196.5 1416.67 L1197.5 1416.47 L1198.5 1416.27 L1199.5 1416.07 L1200.5 1415.87 L1201.5 1415.67 L1202.5 1415.47 L1203.5 1415.27 L1204.5 1415.08 L1205.5 1414.88 L1206.5 1414.68 L1207.5 1414.48 L1208.5 1414.28 L1209.5 1414.08 L1210.5 1413.88 L1211.5 1413.68 L1212.5 1413.48 L1213.5 1413.28 L1214.5 1413.08 L1215.5 1412.88 L1216.5 1412.68 L1217.5 1412.48 L1218.5 1412.29 L1219.5 1412.09 L1220.5 1411.89 L1221.5 1411.69 L1222.5 1411.49 L1223.5 1411.29 L1224.5 1411.09 L1225.5 1410.89 L1226.5 1410.69 L1227.5 1410.49 L1228.5 1410.3 L1229.5 1410.1 L1230.5 1409.9 L1231.5 1409.7 L1232.5 1409.5 L1233.5 1409.3 L1234.5 1409.1 L1235.5 1408.91 L1236.5 1408.71 L1237.5 1408.51 L1238.5 1408.31 L1239.5 1408.11 L1240.5 1407.92 L1241.5 1407.72 L1242.5 1407.52 L1243.5 1407.32 L1244.5 1407.13 L1245.5 1406.93 L1246.5 1406.73 L1247.5 1406.54 L1248.5 1406.34 L1249.5 1406.15 L1250.5 1405.96 L1251.5 1405.76 L1252.5 1405.57 L1253.5 1405.38 L1254.5 1405.18 L1255.5 1404.99 L1256.5 1404.8 L1257.5 1404.61 L1258.5 1404.42 L1259.5 1404.23 L1260.5 1404.04 L1261.5 1403.85 L1262.5 1403.66 L1263.5 1403.47 L1264.5 1403.28 L1265.5 1403.1 L1266.5 1402.91 L1267.5 1402.72 L1268.5 1402.53 L1269.5 1402.34 L1270.5 1402.16 L1271.5 1401.97 L1272.5 1401.78 L1273.5 1401.59 L1274.5 1401.41 L1275.5 1401.22 L1276.5 1401.03 L1277.5 1400.85 L1278.5 1400.66 L1279.5 1400.47 L1280.5 1400.28 L1281.5 1400.1 L1282.5 1399.91 L1283.5 1399.72 L1284.5 1399.53 L1285.5 1399.35 L1286.5 1399.16 L1287.5 1398.97 L1288.5 1398.78 L1289.5 1398.6 L1290.5 1398.41 L1291.5 1398.22 L1292.5 1398.03 L1293.5 1397.84 L1294.5 1397.65 L1295.5 1397.46 L1296.5 1397.27 L1297.5 1397.08 L1298.5 1396.89 L1299.5 1396.7 L1300.5 1396.51 L1301.5 1396.32 L1302.5 1396.12 L1303.5 1395.93 L1304.5 1395.74 L1305.5 1395.55 L1306.5 1395.35 L1307.5 1395.16 L1308.5 1394.96 L1309.5 1394.77 L1310.5 1394.57 L1311.5 1394.37 L1312.5 1394.18 L1313.5 1393.98 L1314.5 1393.78 L1315.5 1393.58 L1316.5 1393.38 L1317.5 1393.18 L1318.5 1392.98 L1319.5 1392.78 L1320.5 1392.58 L1321.5 1392.38 L1322.5 1392.17 L1323.5 1391.97 L1324.5 1391.77 L1325.5 1391.56 L1326.5 1391.35 L1327.5 1391.15 L1328.5 1390.94 L1329.5 1390.74 L1330.5 1390.53 L1331.5 1390.32 L1332.5 1390.11 L1333.5 1389.9 L1334.5 1389.69 L1335.5 1389.48 L1336.5 1389.27 L1337.5 1389.06 L1338.5 1388.85 L1339.5 1388.63 L1340.5 1388.42 L1341.5 1388.21 L1342.5 1387.99 L1343.5 1387.78 L1344.5 1387.56 L1345.5 1387.34 L1346.5 1387.13 L1347.5 1386.91 L1348.5 1386.69 L1349.5 1386.47 L1350.5 1386.26 L1351.5 1386.04 L1352.5 1385.82 L1353.5 1385.6 L1354.5 1385.37 L1355.5 1385.15 L1356.5 1384.93 L1357.5 1384.71 L1358.5 1384.48 L1359.5 1384.26 L1360.5 1384.04 L1361.5 1383.81 L1362.5 1383.59 L1363.5 1383.36 L1364.5 1383.13 L1365.5 1382.91 L1366.5 1382.68 L1367.5 1382.45 L1368.5 1382.22 L1369.5 1381.99 L1370.5 1381.77 L1371.5 1381.54 L1372.5 1381.3 L1373.5 1381.07 L1374.5 1380.84 L1375.5 1380.61 L1376.5 1380.38 L1377.5 1380.14 L1378.5 1379.91 L1379.5 1379.68 L1380.5 1379.44 L1381.5 1379.21 L1382.5 1378.97 L1383.5 1378.74 L1384.5 1378.5 L1385.5 1378.26 L1386.5 1378.03 L1387.5 1377.79 L1388.5 1377.55 L1389.5 1377.32 L1390.5 1377.08 L1391.5 1376.84 L1392.5 1376.6 L1393.5 1376.37 L1394.5 1376.13 L1395.5 1375.89 L1396.5 1375.65 L1397.5 1375.41 L1398.5 1375.18 L1399.5 1374.94 L1400.5 1374.7 L1401.5 1374.46 L1402.5 1374.22 L1403.5 1373.98 L1404.5 1373.74 L1405.5 1373.5 L1406.5 1373.27 L1407.5 1373.03 L1408.5 1372.79 L1409.5 1372.55 L1410.5 1372.31 L1411.5 1372.07 L1412.5 1371.83 L1413.5 1371.59 L1414.5 1371.35 L1415.5 1371.11 L1416.5 1370.87 L1417.5 1370.63 L1418.5 1370.39 L1419.5 1370.15 L1420.5 1369.91 L1421.5 1369.67 L1422.5 1369.43 L1423.5 1369.19 L1424.5 1368.95 L1425.5 1368.7 L1426.5 1368.46 L1427.5 1368.22 L1428.5 1367.98 L1429.5 1367.74 L1430.5 1367.5 L1431.5 1367.26 L1432.5 1367.02 L1433.5 1366.77 L1434.5 1366.53 L1435.5 1366.29 L1436.5 1366.05 L1437.5 1365.81 L1438.5 1365.56 L1439.5 1365.32 L1440.5 1365.08 L1441.5 1364.84 L1442.5 1364.59 L1443.5 1364.35 L1444.5 1364.11 L1445.5 1363.87 L1446.5 1363.62 L1447.5 1363.38 L1448.5 1363.14 L1449.5 1362.9 L1450.5 1362.65 L1451.5 1362.41 L1452.5 1362.17 L1453.5 1361.92 L1454.5 1361.68 L1455.5 1361.44 L1456.5 1361.19 L1457.5 1360.95 L1458.5 1360.71 L1459.5 1360.47 L1460.5 1360.22 L1461.5 1359.98 L1462.5 1359.74 L1463.5 1359.49 L1464.5 1359.25 L1465.5 1359.01 L1466.5 1358.76 L1467.5 1358.52 L1468.5 1358.27 L1469.5 1358.03 L1470.5 1357.79 L1471.5 1357.54 L1472.5 1357.3 L1473.5 1357.06 L1474.5 1356.81 L1475.5 1356.57 L1476.5 1356.33 L1477.5 1356.08 L1478.5 1355.84 L1479.5 1355.59 L1480.5 1355.35 L1481.5 1355.11 L1482.5 1354.86 L1483.5 1354.62 L1484.5 1354.37 L1485.5 1354.13 L1486.5 1353.89 L1487.5 1353.64 L1488.5 1353.4 L1489.5 1353.15 L1490.5 1352.91 L1491.5 1352.66 L1492.5 1352.42 L1493.5 1352.18 L1494.5 1351.93 L1495.5 1351.69 L1496.5 1351.44 L1497.5 1351.2 L1498.5 1350.95 L1499.5 1350.71 L1500.5 1350.47 L1501.5 1350.22 L1502.5 1349.98 L1503.5 1349.73 L1504.5 1349.49 L1505.5 1349.24 L1506.5 1349 L1507.5 1348.75 L1508.5 1348.51 L1509.5 1348.26 L1510.5 1348.02 L1511.5 1347.77 L1512.5 1347.53 L1513.5 1347.28 L1514.5 1347.04 L1515.5 1346.79 L1516.5 1346.55 L1517.5 1346.31 L1518.5 1346.06 L1519.5 1345.82 L1520.5 1345.57 L1521.5 1345.33 L1522.5 1345.08 L1523.5 1344.84 L1524.5 1344.59 L1525.5 1344.35 L1526.5 1344.1 L1527.5 1343.85 L1528.5 1343.61 L1529.5 1343.36 L1530.5 1343.11 L1531.5 1342.86 L1532.5 1342.61 L1533.5 1342.36 L1534.5 1342.11 L1535.5 1341.86 L1536.5 1341.6 L1537.5 1341.35 L1538.5 1341.1 L1539.5 1340.84 L1540.5 1340.58 L1541.5 1340.33 L1542.5 1340.07 L1543.5 1339.81 L1544.5 1339.56 L1545.5 1339.3 L1546.5 1339.04 L1547.5 1338.78 L1548.5 1338.52 L1549.5 1338.26 L1550.5 1338 L1551.5 1337.74 L1552.5 1337.48 L1553.5 1337.22 L1554.5 1336.96 L1555.5 1336.69 L1556.5 1336.43 L1557.5 1336.17 L1558.5 1335.91 L1559.5 1335.65 L1560.5 1335.39 L1561.5 1335.12 L1562.5 1334.86 L1563.5 1334.6 L1564.5 1334.34 L1565.5 1334.08 L1566.5 1333.82 L1567.5 1333.55 L1568.5 1333.29 L1569.5 1333.03 L1570.5 1332.77 L1571.5 1332.51 L1572.5 1332.25 L1573.5 1331.99 L1574.5 1331.73 L1575.5 1331.48 L1576.5 1331.22 L1577.5 1330.96 L1578.5 1330.7 L1579.5 1330.45 L1580.5 1330.19 L1581.5 1329.93 L1582.5 1329.68 L1583.5 1329.42 L1584.5 1329.17 L1585.5 1328.92 L1586.5 1328.67 L1587.5 1328.42 L1588.5 1328.16 L1589.5 1327.92 L1590.5 1327.67 L1591.5 1327.42 L1592.5 1327.17 L1593.5 1326.93 L1594.5 1326.68 L1595.5 1326.44 L1596.5 1326.19 L1597.5 1325.95 L1598.5 1325.71 L1599.5 1325.47 L1600.5 1325.23 L1601.5 1324.99 L1602.5 1324.76 L1603.5 1324.52 L1604.5 1324.29 L1605.5 1324.05 L1606.5 1323.82 L1607.5 1323.59 L1608.5 1323.35 L1609.5 1323.12 L1610.5 1322.89 L1611.5 1322.66 L1612.5 1322.44 L1613.5 1322.21 L1614.5 1321.98 L1615.5 1321.76 L1616.5 1321.53 L1617.5 1321.31 L1618.5 1321.08 L1619.5 1320.86 L1620.5 1320.64 L1621.5 1320.42 L1622.5 1320.19 L1623.5 1319.97 L1624.5 1319.75 L1625.5 1319.54 L1626.5 1319.32 L1627.5 1319.1 L1628.5 1318.88 L1629.5 1318.67 L1630.5 1318.45 L1631.5 1318.23 L1632.5 1318.02 L1633.5 1317.81 L1634.5 1317.59 L1635.5 1317.38 L1636.5 1317.17 L1637.5 1316.95 L1638.5 1316.74 L1639.5 1316.53 L1640.5 1316.32 L1641.5 1316.11 L1642.5 1315.9 L1643.5 1315.69 L1644.5 1315.48 L1645.5 1315.27 L1646.5 1315.06 L1647.5 1314.85 L1648.5 1314.65 L1649.5 1314.44 L1650.5 1314.23 L1651.5 1314.02 L1652.5 1313.82 L1653.5 1313.61 L1654.5 1313.41 L1655.5 1313.2 L1656.5 1312.99 L1657.5 1312.79 L1658.5 1312.58 L1659.5 1312.38 L1660.5 1312.17 L1661.5 1311.97 L1662.5 1311.76 L1663.5 1311.56 L1664.5 1311.36 L1665.5 1311.15 L1666.5 1310.95 L1667.5 1310.74 L1668.5 1310.54 L1669.5 1310.34 L1670.5 1310.13 L1671.5 1309.93 L1672.5 1309.72 L1673.5 1309.52 L1674.5 1309.32 L1675.5 1309.12 L1676.5 1308.91 L1677.5 1308.71 L1678.5 1308.51 L1679.5 1308.31 L1680.5 1308.11 L1681.5 1307.9 L1682.5 1307.7 L1683.5 1307.5 L1684.5 1307.3 L1685.5 1307.1 L1686.5 1306.9 L1687.5 1306.7 L1688.5 1306.5 L1689.5 1306.3 L1690.5 1306.1 L1691.5 1305.9 L1692.5 1305.7 L1693.5 1305.5 L1694.5 1305.3 L1695.5 1305.1 L1696.5 1304.9 L1697.5 1304.7 L1698.5 1304.51 L1699.5 1304.31 L1700.5 1304.11 L1701.5 1303.91 L1702.5 1303.71 L1703.5 1303.52 L1704.5 1303.32 L1705.5 1303.12 L1706.5 1302.93 L1707.5 1302.73 L1708.5 1302.53 L1709.5 1302.34 L1710.5 1302.14 L1711.5 1301.95 L1712.5 1301.75 L1713.5 1301.56 L1714.5 1301.36 L1715.5 1301.17 L1716.5 1300.97 L1717.5 1300.78 L1718.5 1300.58 L1719.5 1300.39 L1720.5 1300.2 L1721.5 1300 L1722.5 1299.81 L1723.5 1299.62 L1724.5 1299.42 L1725.5 1299.23 L1726.5 1299.04 L1727.5 1298.85 L1728.5 1298.66 L1729.5 1298.46 L1730.5 1298.27 L1731.5 1298.08 L1732.5 1297.89 L1733.5 1297.7 L1734.5 1297.51 L1735.5 1297.32 L1736.5 1297.13 L1737.5 1296.94 L1738.5 1296.75 L1739.5 1296.56 L1740.5 1296.37 L1741.5 1296.19 L1742.5 1296 L1743.5 1295.81 L1744.5 1295.63 L1745.5 1295.45 L1746.5 1295.26 L1747.5 1295.08 L1748.5 1294.9 L1749.5 1294.72 L1750.5 1294.54 L1751.5 1294.36 L1752.5 1294.18 L1753.5 1294 L1754.5 1293.83 L1755.5 1293.65 L1756.5 1293.47 L1757.5 1293.3 L1758.5 1293.12 L1759.5 1292.95 L1760.5 1292.77 L1761.5 1292.6 L1762.5 1292.43 L1763.5 1292.25 L1764.5 1292.08 L1765.5 1291.91 L1766.5 1291.73 L1767.5 1291.56 L1768.5 1291.39 L1769.5 1291.22 L1770.5 1291.05 L1771.5 1290.88 L1772.5 1290.71 L1773.5 1290.54 L1774.5 1290.36 L1775.5 1290.19 L1776.5 1290.02 L1777.5 1289.85 L1778.5 1289.68 L1779.5 1289.51 L1780.5 1289.34 L1781.5 1289.17 L1782.5 1289 L1783.5 1288.82 L1784.5 1288.65 L1785.5 1288.48 L1786.5 1288.31 L1787.5 1288.14 L1788.5 1287.96 L1789.5 1287.79 L1790.5 1287.62 L1791.5 1287.44 L1792.5 1287.27 L1793.5 1287.09 L1794.5 1286.92 L1795.5 1286.74 L1796.5 1286.57 L1797.5 1286.39 L1798.5 1286.21 L1799.5 1286.03 L1800.5 1285.85 L1801.5 1285.67 L1802.5 1285.49 L1803.5 1285.31 L1804.5 1285.13 L1805.5 1284.95 L1806.5 1284.77 L1807.5 1284.58 L1808.5 1284.4 L1809.5 1284.21 L1810.5 1284.03 L1811.5 1283.84 L1812.5 1283.65 L1813.5 1283.46 L1814.5 1283.26 L1815.5 1283.07 L1816.5 1282.87 L1817.5 1282.68 L1818.5 1282.48 L1819.5 1282.28 L1820.5 1282.08 L1821.5 1281.88 L1822.5 1281.68 L1823.5 1281.47 L1824.5 1281.27 L1825.5 1281.06 L1826.5 1280.85 L1827.5 1280.65 L1828.5 1280.44 L1829.5 1280.23 L1830.5 1280.02 L1831.5 1279.81 L1832.5 1279.6 L1833.5 1279.38 L1834.5 1279.17 L1835.5 1278.96 L1836.5 1278.74 L1837.5 1278.53 L1838.5 1278.32 L1839.5 1278.1 L1840.5 1277.88 L1841.5 1277.67 L1842.5 1277.45 L1843.5 1277.24 L1844.5 1277.02 L1845.5 1276.8 L1846.5 1276.58 L1847.5 1276.37 L1848.5 1276.15 L1849.5 1275.93 L1850.5 1275.72 L1851.5 1275.5 L1852.5 1275.28 L1853.5 1275.06 L1854.5 1274.85 L1855.5 1274.63 L1856.5 1274.42 L1857.5 1274.2 L1858.5 1273.98 L1859.5 1273.77 L1860.5 1273.55 L1861.5 1273.34 L1862.5 1273.13 L1863.5 1272.91 L1864.5 1272.7 L1865.5 1272.49 L1866.5 1272.28 L1867.5 1272.07 L1868.5 1271.86 L1869.5 1271.65 L1870.5 1271.44 L1871.5 1271.24 L1872.5 1271.03 L1873.5 1270.82 L1874.5 1270.62 L1875.5 1270.42 L1876.5 1270.22 L1877.5 1270.01 L1878.5 1269.82 L1879.5 1269.62 L1880.5 1269.42 L1881.5 1269.22 L1882.5 1269.03 L1883.5 1268.84 L1884.5 1268.64 L1885.5 1268.45 L1886.5 1268.26 L1887.5 1268.07 L1888.5 1267.89 L1889.5 1267.7 L1890.5 1267.52 L1891.5 1267.33 L1892.5 1267.15 L1893.5 1266.97 L1894.5 1266.79 L1895.5 1266.61 L1896.5 1266.43 L1897.5 1266.25 L1898.5 1266.07 L1899.5 1265.9 L1900.5 1265.72 L1901.5 1265.55 L1902.5 1265.37 L1903.5 1265.2 L1904.5 1265.03 L1905.5 1264.86 L1906.5 1264.69 L1907.5 1264.52 L1908.5 1264.36 L1909.5 1264.19 L1910.5 1264.02 L1911.5 1263.86 L1912.5 1263.69 L1913.5 1263.53 L1914.5 1263.36 L1915.5 1263.2 L1916.5 1263.04 L1917.5 1262.88 L1918.5 1262.72 L1919.5 1262.56 L1920.5 1262.4 L1921.5 1262.24 L1922.5 1262.08 L1923.5 1261.93 L1924.5 1261.77 L1925.5 1261.61 L1926.5 1261.46 L1927.5 1261.3 L1928.5 1261.15 L1929.5 1260.99 L1930.5 1260.84 L1931.5 1260.69 L1932.5 1260.54 L1933.5 1260.38 L1934.5 1260.23 L1935.5 1260.08 L1936.5 1259.93 L1937.5 1259.78 L1938.5 1259.63 L1939.5 1259.48 L1940.5 1259.33 L1941.5 1259.18 L1942.5 1259.03 L1943.5 1258.88 L1944.5 1258.73 L1945.5 1258.59 L1946.5 1258.44 L1947.5 1258.29 L1948.5 1258.14 L1949.5 1257.99 L1950.5 1257.85 L1951.5 1257.7 L1952.5 1257.56 L1953.5 1257.42 L1954.5 1257.29" stroke="#00aa00" stroke-width="3.2"/><path d="M1954.5 1257.29 L1955.5 1257.16 L1956.5 1257.04 L1957.5 1256.93 L1958.5 1256.82 L1959.5 1256.71 L1960.5 1256.61 L1961.5 1256.52 L1962.5 1256.42 L1963.5 1256.34 L1964.5 1256.26 L1965.5 1256.18 L1966.5 1256.1 L1967.5 1256.03 L1968.5 1255.96 L1969.5 1255.9 L1970.5 1255.84 L1971.5 1255.78 L1972.5 1255.72 L1973.5 1255.67 L1974.5 1255.61 L1975.5 1255.57 L1976.5 1255.52 L1977.5 1255.47 L1978.5 1255.43 L1979.5 1255.38 L1980.5 1255.35 L1981.5 1255.33 L1982.5 1255.32 L1983.5 1255.32 L1984.5 1255.33 L1985.5 1255.36 L1986.5 1255.39 L1987.5 1255.43 L1988.5 1255.48 L1989.5 1255.55 L1990.5 1255.62 L1991.5 1255.7 L1992.5 1255.79 L1993.5 1255.89 L1994.5 1255.99 L1995.5 1256.11" stroke="#00aa00" stroke-width="3"/><path d="M1995.5 1256.11 L1996.5 1256.23 L1997.5 1256.36 L1998.5 1256.5 L1999.5 1256.64 L2000.5 1256.79 L2001.5 1256.95 L2002.5 1257.12 L2003.5 1257.3 L2004.5 1257.5 L2005.5 1257.71 L2006.5 1257.93 L2007.5 1258.17 L2008.5 1258.43 L2009.5 1258.7 L2010.5 1258.98 L2011.5 1259.27 L2012.5 1259.58 L2013.5 1259.9 L2014.5 1260.23 L2015.5 1260.57 L2016.5 1260.92 L2017.5 1261.29 L2018.5 1261.66 L2019.5 1262.05 L2020.5 1262.44 L2021.5 1262.84 L2022.5 1263.26 L2022.6 1263.3" stroke="#00aa00" stroke-width="3.2"/>
</g>
<g fill="#000" shape-rendering="auto">
<path d="M250 1600 H294.5 Q297 1600 297 1602.5 V1606.5 Q297 1609 294.5 1609 H250 Z"/>
<path d="M250 1544 H276 L277 1544.8 V1546.2 L276 1547 H250 Z"/>
<path d="M250 1484 H276 L277 1484.8 V1486.2 L276 1487 H250 Z"/>
<path d="M250 1424 H276 L277 1424.8 V1426.2 L276 1427 H250 Z"/>
<path d="M250 1364 H276 L277 1364.8 V1366.2 L276 1367 H250 Z"/>
<path d="M250 1301 H294.5 Q297 1301 297 1303.5 V1307.5 Q297 1310 294.5 1310 H250 Z"/>
<path d="M250 1244 H276 L277 1244.8 V1246.2 L276 1247 H250 Z"/>
<path d="M250 1185 H276 L277 1185.8 V1187.2 L276 1188 H250 Z"/>
<path d="M250 1125 H276 L277 1125.8 V1127.2 L276 1128 H250 Z"/>
<path d="M250 1065 H276 L277 1065.8 V1067.2 L276 1068 H250 Z"/>
<path d="M250 1002 H294.5 Q297 1002 297 1004.5 V1008.5 Q297 1011 294.5 1011 H250 Z"/>
<path d="M250 945 H276 L277 945.8 V947.2 L276 948 H250 Z"/>
<path d="M250 885 H276 L277 885.8 V887.2 L276 888 H250 Z"/>
<path d="M250 826 H276 L277 826.8 V828.2 L276 829 H250 Z"/>
<path d="M250 766 H276 L277 766.8 V768.2 L276 769 H250 Z"/>
<path d="M250 702 H294.5 Q297 702 297 704.5 V708.5 Q297 711 294.5 711 H250 Z"/>
<path d="M250 646 H276 L277 646.8 V648.2 L276 649 H250 Z"/>
<path d="M250 586 H276 L277 586.8 V588.2 L276 589 H250 Z"/>
<path d="M250 526 H276 L277 526.8 V528.2 L276 529 H250 Z"/>
<path d="M250 467 H276 L277 467.8 V469.2 L276 470 H250 Z"/>
<path d="M250 403 H294.5 Q297 403 297 405.5 V409.5 Q297 412 294.5 412 H250 Z"/>
<path d="M250 347 H276 L277 347.8 V349.2 L276 350 H250 Z"/>
<path d="M250 287 H276 L277 287.8 V289.2 L276 290 H250 Z"/>
<path d="M250 227 H276 L277 227.8 V229.2 L276 230 H250 Z"/>
<path d="M250 167 H276 L277 167.8 V169.2 L276 170 H250 Z"/>
<path d="M250 104 H294.5 Q297 104 297 106.5 V110.5 Q297 113 294.5 113 H250 Z"/>
<path d="M320 1640 V1616 L320.8 1615 H322.2 L323 1616 V1640 Z"/>
<path d="M390 1640 V1616 L390.8 1615 H392.2 L393 1616 V1640 Z"/>
<path d="M461 1640 V1616 L461.8 1615 H463.2 L464 1616 V1640 Z"/>
<path d="M532 1640 V1616 L532.8 1615 H534.2 L535 1616 V1640 Z"/>
<path d="M600 1640 V1597.5 Q600 1595 602.5 1595 H606.5 Q609 1595 609 1597.5 V1640 Z"/>
<path d="M674 1640 V1616 L674.8 1615 H676.2 L677 1616 V1640 Z"/>
<path d="M745 1640 V1616 L745.8 1615 H747.2 L748 1616 V1640 Z"/>
<path d="M816 1640 V1616 L816.8 1615 H818.2 L819 1616 V1640 Z"/>
<path d="M887 1640 V1616 L887.8 1615 H889.2 L890 1616 V1640 Z"/>
<path d="M955 1640 V1597.5 Q955 1595 957.5 1595 H961.5 Q964 1595 964 1597.5 V1640 Z"/>
<path d="M1029 1640 V1616 L1029.8 1615 H1031.2 L1032 1616 V1640 Z"/>
<path d="M1100 1640 V1616 L1100.8 1615 H1102.2 L1103 1616 V1640 Z"/>
<path d="M1170 1640 V1616 L1170.8 1615 H1172.2 L1173 1616 V1640 Z"/>
<path d="M1241 1640 V1616 L1241.8 1615 H1243.2 L1244 1616 V1640 Z"/>
<path d="M1309 1640 V1597.5 Q1309 1595 1311.5 1595 H1315.5 Q1318 1595 1318 1597.5 V1640 Z"/>
<path d="M1383 1640 V1616 L1383.8 1615 H1385.2 L1386 1616 V1640 Z"/>
<path d="M1454 1640 V1616 L1454.8 1615 H1456.2 L1457 1616 V1640 Z"/>
<path d="M1525 1640 V1616 L1525.8 1615 H1527.2 L1528 1616 V1640 Z"/>
<path d="M1596 1640 V1616 L1596.8 1615 H1598.2 L1599 1616 V1640 Z"/>
<path d="M1664 1640 V1597.5 Q1664 1595 1666.5 1595 H1670.5 Q1673 1595 1673 1597.5 V1640 Z"/>
<path d="M1738 1640 V1616 L1738.8 1615 H1740.2 L1741 1616 V1640 Z"/>
<path d="M1809 1640 V1616 L1809.8 1615 H1811.2 L1812 1616 V1640 Z"/>
<path d="M1879 1640 V1616 L1879.8 1615 H1881.2 L1882 1616 V1640 Z"/>
<path d="M1950 1640 V1616 L1950.8 1615 H1952.2 L1953 1616 V1640 Z"/>
<path d="M2018 1640 V1597.5 Q2018 1595 2020.5 1595 H2024.5 Q2027 1595 2027 1597.5 V1640 Z"/>
<path d="M246 1643 V79.5 Q246 77 248.5 77 H252 Q255 77 255 80.5 V1636 H2027 V1644 L2026 1645 H248 Q246 1645 246 1643 Z"/>
</g>
<text class="tk" transform="translate(0 130) scale(1 1.0420)" x="137.77 173.12 191.37" y="0">2.5</text>
<text class="tk" transform="translate(0 429) scale(1 1.0420)" x="190.72" y="0">2</text>
<text class="tk" transform="translate(0 728) scale(1 1.0420)" x="140.72 173.12 191.37" y="0">1.5</text>
<text class="tk" transform="translate(0 1027) scale(1 1.0420)" x="193.77" y="0">1</text>
<text class="tk" transform="translate(0 1326) scale(1 1.0420)" x="138.22 173.12 191.37" y="0">0.5</text>
<text class="tk" transform="translate(0 1625) scale(1 1.0420)" x="191.32" y="0">0</text>
<text class="tk" transform="translate(0 1702) scale(1 1.0420)" x="232.23" y="0">0</text>
<text class="tk" transform="translate(0 1702) scale(1 1.0420)" x="561.27 595.14 612.75" y="0">0.2</text>
<text class="tk" transform="translate(0 1702) scale(1 1.0420)" x="915.32 950.14 967.46" y="0">0.4</text>
<text class="tk" transform="translate(0 1702) scale(1 1.0420)" x="1270.32 1304.15 1321.61" y="0">0.6</text>
<text class="tk" transform="translate(0 1702) scale(1 1.0420)" x="1624.3 1659.15 1677.3" y="0">0.8</text>
<text class="tk" transform="translate(0 1702) scale(1 1.0420)" x="2007.82" y="0">1</text>
<text class="tt" transform="translate(0 1771) scale(1 1.0400)" x="1077.81 1128.7 1149.04" y="0">X/L</text>
<text class="tt" transform="translate(108 956) rotate(-90) scale(1 1.0400)" x="0 48.27 68.07" y="0">V/V</text>
<text class="sb" transform="translate(131 956) rotate(-90) scale(1 1.0400)" x="115.46 141.03 165.36" y="0">ave</text>
<g shape-rendering="auto">
<path d="M749 297 H1034 L1035 298 V299 L1034 300 H749 L748 299 V298 Z" fill="#000000"/>
<path d="M749 370 H1034 L1035 371 V372 L1034 373 H749 L748 372 V371 Z" fill="#2020ff"/>
<path d="M749 443 H1034 L1035 444 V445 L1034 446 H749 L748 445 V444 Z" fill="#f40000"/>
<path d="M749 515 H1034 L1035 516 V517 L1034 518 H749 L748 517 V516 Z" fill="#00aa00"/>
</g>
<text class="lg" transform="translate(0 316) scale(1 1.0500)" x="1080.73 1127.3 1164.67 1201.63 1236.56 1253.73 1290.76" y="0">Kn=0.01</text>
<text class="lg" transform="translate(0 389) scale(1 1.0500)" x="1080.73 1127.3 1164.67 1201.63 1236.56 1255.86" y="0">Kn=0.1</text>
<text class="lg" transform="translate(0 462) scale(1 1.0500)" x="1080.73 1127.3 1164.67 1203.56" y="0">Kn=1</text>
<text class="lg" transform="translate(0 535) scale(1 1.0500)" x="1080.73 1127.3 1164.67 1203.56 1236.73" y="0">Kn=10</text>
<g fill="#ffffff"><rect x="144.09" y="722.73" width="11.72" height="6.27"/><rect x="161.11" y="722.73" width="11.25" height="6.27"/><rect x="197.14" y="1021.73" width="11.72" height="6.27"/><rect x="214.16" y="1021.73" width="11.25" height="6.27"/><rect x="2011.19" y="1696.73" width="11.72" height="6.27"/><rect x="2028.21" y="1696.73" width="11.25" height="6.27"/><rect x="1128.42" y="1713.73" width="21.11" height="4.32"/><rect x="1128.42" y="1771" width="21.11" height="3.04"/><g transform="translate(108 956) rotate(-90)"><rect x="47.99" y="-57.27" width="21.11" height="4.32"/><rect x="47.99" y="0" width="21.11" height="3.04"/></g><rect x="1293.4" y="308.86" width="11.6" height="8.14"/><rect x="1313.37" y="308.86" width="10.82" height="8.14"/><rect x="1258.5" y="381.86" width="11.6" height="8.14"/><rect x="1278.47" y="381.86" width="10.82" height="8.14"/><rect x="1206.2" y="454.86" width="11.6" height="8.14"/><rect x="1226.17" y="454.86" width="10.82" height="8.14"/><rect x="1206.2" y="527.86" width="11.6" height="8.14"/><rect x="1226.17" y="527.86" width="10.82" height="8.14"/></g>
</svg></body></html>
